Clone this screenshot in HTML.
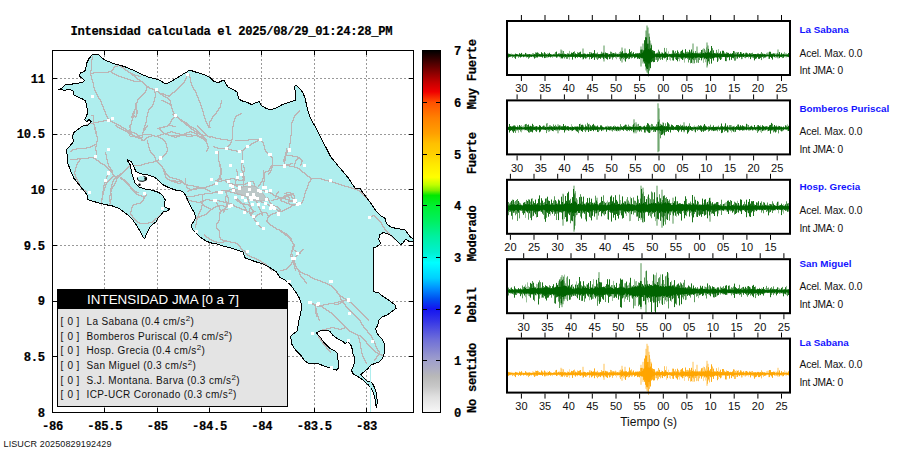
<!DOCTYPE html>
<html><head><meta charset="utf-8"><title>Intensidad</title>
<style>
html,body{margin:0;padding:0;background:#fff;}
#root{position:relative;width:910px;height:460px;overflow:hidden;background:#fff;}
svg{position:absolute;left:0;top:0;}
.mono{font-family:"Liberation Mono",monospace;font-weight:bold;letter-spacing:-0.32px;stroke:#000;stroke-width:0.2px;}
.sans{font-family:"Liberation Sans",sans-serif;}
</style></head><body><div id="root">
<svg width="910" height="460" viewBox="0 0 910 460">
<defs>
<clipPath id="mapclip"><rect x="53" y="51" width="360" height="361"/></clipPath>
<linearGradient id="cbar" x1="0" y1="1" x2="0" y2="0">
<stop offset="0.000" stop-color="#f8f8f8"/>
<stop offset="0.043" stop-color="#e0e0e0"/>
<stop offset="0.071" stop-color="#c8c8c8"/>
<stop offset="0.100" stop-color="#b8b8b8"/>
<stop offset="0.114" stop-color="#b0b0c0"/>
<stop offset="0.143" stop-color="#a0a0cc"/>
<stop offset="0.171" stop-color="#8888d0"/>
<stop offset="0.200" stop-color="#7070d8"/>
<stop offset="0.229" stop-color="#5050e0"/>
<stop offset="0.257" stop-color="#3030e8"/>
<stop offset="0.286" stop-color="#1414f0"/>
<stop offset="0.314" stop-color="#0050f0"/>
<stop offset="0.343" stop-color="#0090ff"/>
<stop offset="0.371" stop-color="#00d0ff"/>
<stop offset="0.414" stop-color="#00ffff"/>
<stop offset="0.443" stop-color="#00f0d0"/>
<stop offset="0.486" stop-color="#00f0a0"/>
<stop offset="0.529" stop-color="#00f060"/>
<stop offset="0.571" stop-color="#00f030"/>
<stop offset="0.600" stop-color="#00e800"/>
<stop offset="0.614" stop-color="#80f000"/>
<stop offset="0.629" stop-color="#c0ff00"/>
<stop offset="0.650" stop-color="#ffff00"/>
<stop offset="0.686" stop-color="#ffe800"/>
<stop offset="0.714" stop-color="#ffd000"/>
<stop offset="0.743" stop-color="#ffc000"/>
<stop offset="0.771" stop-color="#ffa000"/>
<stop offset="0.814" stop-color="#ff8000"/>
<stop offset="0.857" stop-color="#ff5000"/>
<stop offset="0.886" stop-color="#f00000"/>
<stop offset="0.914" stop-color="#c00000"/>
<stop offset="0.943" stop-color="#800000"/>
<stop offset="0.971" stop-color="#400000"/>
<stop offset="1.000" stop-color="#000000"/>
</linearGradient>
</defs>

<g clip-path="url(#mapclip)">
<g stroke="#999" stroke-width="1" stroke-dasharray="2,2">
<line x1="104.5" y1="51" x2="104.5" y2="412"/>
<line x1="157.5" y1="51" x2="157.5" y2="412"/>
<line x1="209.5" y1="51" x2="209.5" y2="412"/>
<line x1="261.5" y1="51" x2="261.5" y2="412"/>
<line x1="314.5" y1="51" x2="314.5" y2="412"/>
<line x1="366.5" y1="51" x2="366.5" y2="412"/>
<line x1="53" y1="356.5" x2="413" y2="356.5" stroke-dashoffset="1"/>
<line x1="53" y1="301.5" x2="413" y2="301.5" stroke-dashoffset="1"/>
<line x1="53" y1="245.5" x2="413" y2="245.5" stroke-dashoffset="1"/>
<line x1="53" y1="189.5" x2="413" y2="189.5" stroke-dashoffset="1"/>
<line x1="53" y1="134.5" x2="413" y2="134.5" stroke-dashoffset="1"/>
<line x1="53" y1="78.5" x2="413" y2="78.5" stroke-dashoffset="1"/>
</g>
<polygon points="92.2,54.8 96.6,54.3 98.7,54.8 104.2,59.8 115,64.1 123.7,66.3 134.6,70.7 143.3,75 148.7,77.2 157.4,79.3 161.7,81.5 166.1,84.1 174.8,79.3 183.5,73.9 190,70 194.3,71.7 200.9,73.5 205.2,75 209.6,77.2 213.9,81.5 218.3,82.6 223.7,80 225.9,83.7 228,87 233,89.5 237,92 238.7,99 243,101.3 247.4,102.4 251.7,104.6 256.1,102.4 259.3,101.7 261.5,105.7 265.9,108.3 270.2,110 275.7,108.3 282.2,104.6 288.7,102.4 295.2,100.2 295.7,92.6 294.1,86.1 296.3,85.7 299.6,88.3 302.8,92.6 305,98 307.2,107.8 309.3,115.4 312.6,122 317,129.6 321.3,138.3 325.7,147 330.5,156.5 337.4,165 343.9,172.6 348.3,178 352.6,184.6 355.9,188.9 360.2,188.3 362.4,192.2 366.7,197.6 372.2,205.2 376.5,211.7 380.9,216.1 385.2,218.3 386.3,223.7 390.7,227 397.2,228.7 404.8,229.6 407,232.4 410.2,236.7 413.5,239.3 414,239.3 414,242 409,241.3 405.9,239.1 402.6,243.5 400.4,244.6 396.1,240.2 391.7,235.9 387.4,233.7 383,232.6 379.8,234.8 378.7,239.1 380.9,243.5 376.5,246.7 373.3,247.8 373.3,291.3 376.5,292.4 378.7,293 383,296.3 389.6,300.7 395,305 396.1,308.3 391.7,311.5 387.4,314.8 382,317 378.7,320.2 377.6,325.7 375.4,328.9 377.6,334.3 382,338.7 384.1,343 384.5,351.3 383.8,355.4 381.8,359.4 379,362.1 375,363.5 371,364.8 368.3,368.2 364.3,371.6 361,374.5 364,378 367,381 370,381.6 372.5,383.5 374.3,387 375.9,391 376.7,395 377.1,400 377.1,404 376.4,407.5 375.3,404 375.3,400.5 374.4,396 373,392 371,388.2 368.3,384.8 365.6,382.6 362.2,379.4 359,377.2 356,375.6 352.8,373.6 351.5,370.2 353.5,366.2 354.8,360.8 354.2,356.7 352.8,353.4 352.2,349 350.6,344.3 347.4,341.7 345.2,343.9 343,341.7 337.4,338.7 333,335.4 329.8,331.1 324.3,330 320,331.1 316.5,332.5 317.6,334.5 320.3,337.1 323.9,342.5 329.2,347.8 335.5,351.4 337.2,353.2 338.1,360.3 338.1,368.3 336.3,370.1 331,368.3 325.7,366.5 318.5,363.9 313.2,363 307.8,363 304.3,360.3 300.7,355 295.3,349.6 291.8,344.3 291.8,340.7 290,337.1 293,334.1 297.4,330.9 298.5,322.2 300.7,313.5 301.7,304.8 299.6,298.3 296,292.5 291,285.5 285,280 280,277.5 276.1,271.7 269.6,267.4 263,264.1 256.5,262 250,259.8 244.6,257.6 243.5,252.2 237,250 230.4,247.8 221.7,245.7 215.2,243.5 213,243.5 206.5,241.3 200,237 195.7,232.6 192.4,229.3 191.3,225 193.5,221.7 195.7,217.4 194.6,213 191.3,207.6 188,201.1 185.9,195.7 182.6,191.3 176.1,190.2 169.6,188 163,184.8 158.7,180.4 154.3,177.2 147.8,175 141.3,173.9 135.9,171.7 133.7,166.3 131.5,162 127.8,159.8 127.6,160.8 130.4,165.2 131.5,171.7 132.6,176.1 134.8,182.6 139.1,187 145.7,189.1 152.2,190.2 158.7,192.4 163,195.7 165.2,200 164.1,204.3 165.2,207.6 169.6,208.7 167.4,210.9 163,212 160.9,215.2 157.6,218.5 156.5,221.7 153.3,223.9 150,227.2 147.8,231.5 145.7,235.9 144.6,238.9 142.4,235.9 140.2,231.5 137,226.1 132.6,219.6 128.3,215.2 123.9,212 119.6,208.7 113,206.1 106.5,204.8 100,203.3 95.5,202 87.9,199.8 86.8,194.3 82.4,188.9 78.1,183.5 73.7,178 70.5,170.4 67.2,161.7 67.2,155.2 66.1,149.8 69.4,146.5 73.7,141.3 72.6,137 73.7,132.6 78.1,129.3 82.4,126.1 87.9,125 91.1,121.7 89,119.6 86.8,121.7 84.6,119.6 86.8,115.2 87.9,112 86.8,106.5 85.7,101.1 82.4,98.9 77,96.7 73.7,94.6 73.7,91.3 69.4,89.1 65,90.2 58.5,89.6 61.8,88 65,84.8 69.4,84.8 73.7,83.7 82.4,82.6 84.6,80.4 82.4,78.3 79.2,76 80.3,72.8 84.6,71.7 85.7,68.5 86.8,63 88.9,58.7" fill="#afeeee" stroke="none"/>
<polygon points="137.5,177.5 140,176.3 143.5,176.3 146.5,177.5 146.5,180 143,181.3 139.5,181 137.5,179.5" fill="#afeeee" stroke="none"/>
<path d="M92 56h1v1h-1zM92 57h1v1h-1zM92 58h1v1h-1zM91 59h2v1h-2zM91 60h1v1h-1zM91 61h1v1h-1zM91 62h1v1h-1zM91 63h1v1h-1zM91 64h1v1h-1zM91 65h1v1h-1zM117 65h4v1h-4zM91 66h1v1h-1zM114 66h4v1h-4zM120 66h2v1h-2zM91 67h1v1h-1zM113 67h2v1h-2zM121 67h3v1h-3zM91 68h1v1h-1zM113 68h1v1h-1zM123 68h2v1h-2zM91 69h1v1h-1zM112 69h2v1h-2zM124 69h2v1h-2zM90 70h2v1h-2zM111 70h2v1h-2zM125 70h3v1h-3zM90 71h1v1h-1zM108 71h4v1h-4zM127 71h2v1h-2zM90 72h1v1h-1zM93 72h16v1h-16zM111 72h2v1h-2zM128 72h3v1h-3zM90 73h4v1h-4zM112 73h3v1h-3zM130 73h3v1h-3zM90 74h1v1h-1zM114 74h3v1h-3zM131 74h4v1h-4zM187 74h1v1h-1zM189 74h1v1h-1zM90 75h2v1h-2zM116 75h3v1h-3zM132 75h7v1h-7zM186 75h2v1h-2zM189 75h1v1h-1zM91 76h1v1h-1zM118 76h4v1h-4zM134 76h2v1h-2zM138 76h3v1h-3zM186 76h1v1h-1zM189 76h1v1h-1zM91 77h1v1h-1zM121 77h4v1h-4zM135 77h2v1h-2zM186 77h1v1h-1zM189 77h2v1h-2zM91 78h1v1h-1zM124 78h4v1h-4zM136 78h2v1h-2zM185 78h2v1h-2zM190 78h1v1h-1zM91 79h2v1h-2zM127 79h4v1h-4zM137 79h3v1h-3zM185 79h1v1h-1zM190 79h1v1h-1zM92 80h1v1h-1zM130 80h4v1h-4zM139 80h2v1h-2zM184 80h2v1h-2zM190 80h1v1h-1zM92 81h1v1h-1zM133 81h10v1h-10zM184 81h1v1h-1zM190 81h1v1h-1zM92 82h2v1h-2zM142 82h2v1h-2zM183 82h2v1h-2zM190 82h2v1h-2zM93 83h1v1h-1zM143 83h2v1h-2zM182 83h2v1h-2zM191 83h1v1h-1zM93 84h1v1h-1zM144 84h2v1h-2zM181 84h2v1h-2zM191 84h1v1h-1zM93 85h1v1h-1zM145 85h2v1h-2zM180 85h2v1h-2zM191 85h2v1h-2zM93 86h1v1h-1zM146 86h3v1h-3zM179 86h2v1h-2zM192 86h1v1h-1zM93 87h2v1h-2zM146 87h4v1h-4zM178 87h2v1h-2zM192 87h2v1h-2zM94 88h1v1h-1zM146 88h1v1h-1zM149 88h4v1h-4zM177 88h2v1h-2zM193 88h1v1h-1zM94 89h1v1h-1zM146 89h1v1h-1zM152 89h4v1h-4zM176 89h2v1h-2zM193 89h2v1h-2zM94 90h2v1h-2zM145 90h2v1h-2zM154 90h3v1h-3zM175 90h2v1h-2zM194 90h2v1h-2zM95 91h1v1h-1zM145 91h1v1h-1zM154 91h1v1h-1zM156 91h3v1h-3zM174 91h2v1h-2zM195 91h1v1h-1zM95 92h2v1h-2zM144 92h2v1h-2zM154 92h2v1h-2zM158 92h2v1h-2zM172 92h3v1h-3zM195 92h2v1h-2zM96 93h1v1h-1zM143 93h2v1h-2zM155 93h1v1h-1zM159 93h5v1h-5zM171 93h2v1h-2zM196 93h1v1h-1zM96 94h2v1h-2zM142 94h2v1h-2zM155 94h1v1h-1zM160 94h6v1h-6zM170 94h2v1h-2zM196 94h1v1h-1zM97 95h1v1h-1zM141 95h2v1h-2zM155 95h1v1h-1zM162 95h2v1h-2zM165 95h6v1h-6zM196 95h2v1h-2zM97 96h2v1h-2zM140 96h2v1h-2zM155 96h1v1h-1zM163 96h3v1h-3zM168 96h2v1h-2zM197 96h1v1h-1zM98 97h1v1h-1zM139 97h2v1h-2zM154 97h2v1h-2zM165 97h3v1h-3zM197 97h2v1h-2zM98 98h2v1h-2zM138 98h2v1h-2zM154 98h1v1h-1zM167 98h2v1h-2zM198 98h1v1h-1zM99 99h2v1h-2zM137 99h2v1h-2zM154 99h1v1h-1zM168 99h2v1h-2zM198 99h1v1h-1zM100 100h1v1h-1zM137 100h1v1h-1zM154 100h1v1h-1zM161 100h3v1h-3zM169 100h2v1h-2zM198 100h2v1h-2zM221 100h1v1h-1zM100 101h2v1h-2zM137 101h1v1h-1zM153 101h2v1h-2zM163 101h3v1h-3zM170 101h1v1h-1zM199 101h1v1h-1zM221 101h1v1h-1zM101 102h1v1h-1zM136 102h2v1h-2zM153 102h1v1h-1zM165 102h3v1h-3zM170 102h1v1h-1zM199 102h2v1h-2zM221 102h1v1h-1zM101 103h1v1h-1zM135 103h2v1h-2zM153 103h1v1h-1zM167 103h4v1h-4zM200 103h1v1h-1zM220 103h2v1h-2zM101 104h2v1h-2zM135 104h2v1h-2zM152 104h2v1h-2zM169 104h3v1h-3zM200 104h1v1h-1zM220 104h1v1h-1zM102 105h1v1h-1zM135 105h2v1h-2zM152 105h1v1h-1zM170 105h2v1h-2zM200 105h2v1h-2zM220 105h1v1h-1zM102 106h2v1h-2zM135 106h2v1h-2zM151 106h2v1h-2zM171 106h1v1h-1zM201 106h1v1h-1zM220 106h1v1h-1zM103 107h1v1h-1zM135 107h2v1h-2zM150 107h2v1h-2zM171 107h1v1h-1zM201 107h1v1h-1zM219 107h2v1h-2zM103 108h1v1h-1zM135 108h2v1h-2zM149 108h2v1h-2zM171 108h2v1h-2zM201 108h2v1h-2zM218 108h2v1h-2zM103 109h2v1h-2zM134 109h3v1h-3zM148 109h2v1h-2zM172 109h1v1h-1zM202 109h1v1h-1zM218 109h1v1h-1zM104 110h1v1h-1zM134 110h1v1h-1zM136 110h2v1h-2zM148 110h1v1h-1zM172 110h1v1h-1zM202 110h1v1h-1zM217 110h2v1h-2zM299 110h1v1h-1zM104 111h2v1h-2zM133 111h2v1h-2zM136 111h2v1h-2zM148 111h1v1h-1zM172 111h2v1h-2zM202 111h2v1h-2zM216 111h2v1h-2zM298 111h2v1h-2zM105 112h1v1h-1zM133 112h2v1h-2zM136 112h2v1h-2zM147 112h2v1h-2zM173 112h1v1h-1zM203 112h1v1h-1zM216 112h1v1h-1zM297 112h2v1h-2zM105 113h1v1h-1zM132 113h3v1h-3zM136 113h2v1h-2zM147 113h1v1h-1zM173 113h2v1h-2zM203 113h1v1h-1zM215 113h2v1h-2zM240 113h2v1h-2zM296 113h2v1h-2zM105 114h2v1h-2zM132 114h2v1h-2zM136 114h1v1h-1zM147 114h1v1h-1zM172 114h4v1h-4zM203 114h1v1h-1zM214 114h2v1h-2zM238 114h3v1h-3zM295 114h2v1h-2zM91 115h3v1h-3zM106 115h1v1h-1zM132 115h3v1h-3zM136 115h1v1h-1zM147 115h1v1h-1zM173 115h4v1h-4zM203 115h2v1h-2zM213 115h2v1h-2zM236 115h3v1h-3zM294 115h2v1h-2zM93 116h1v1h-1zM106 116h2v1h-2zM131 116h6v1h-6zM146 116h2v1h-2zM174 116h4v1h-4zM204 116h1v1h-1zM212 116h2v1h-2zM235 116h2v1h-2zM294 116h1v1h-1zM93 117h1v1h-1zM107 117h1v1h-1zM131 117h3v1h-3zM135 117h1v1h-1zM146 117h1v1h-1zM173 117h2v1h-2zM176 117h3v1h-3zM204 117h1v1h-1zM212 117h1v1h-1zM235 117h1v1h-1zM293 117h2v1h-2zM93 118h1v1h-1zM107 118h2v1h-2zM132 118h1v1h-1zM146 118h1v1h-1zM172 118h2v1h-2zM178 118h2v1h-2zM204 118h2v1h-2zM211 118h2v1h-2zM234 118h2v1h-2zM293 118h1v1h-1zM93 119h1v1h-1zM108 119h3v1h-3zM132 119h1v1h-1zM146 119h1v1h-1zM171 119h2v1h-2zM179 119h3v1h-3zM205 119h1v1h-1zM211 119h1v1h-1zM234 119h1v1h-1zM293 119h1v1h-1zM93 120h1v1h-1zM103 120h8v1h-8zM131 120h2v1h-2zM146 120h1v1h-1zM171 120h1v1h-1zM180 120h3v1h-3zM205 120h1v1h-1zM210 120h2v1h-2zM234 120h1v1h-1zM292 120h2v1h-2zM93 121h1v1h-1zM98 121h6v1h-6zM110 121h3v1h-3zM131 121h1v1h-1zM146 121h1v1h-1zM170 121h2v1h-2zM181 121h4v1h-4zM205 121h2v1h-2zM209 121h2v1h-2zM233 121h2v1h-2zM292 121h1v1h-1zM93 122h6v1h-6zM112 122h3v1h-3zM131 122h1v1h-1zM145 122h2v1h-2zM170 122h1v1h-1zM183 122h4v1h-4zM206 122h1v1h-1zM209 122h1v1h-1zM233 122h1v1h-1zM291 122h2v1h-2zM88 123h6v1h-6zM114 123h3v1h-3zM131 123h1v1h-1zM145 123h1v1h-1zM169 123h2v1h-2zM184 123h4v1h-4zM206 123h2v1h-2zM209 123h1v1h-1zM233 123h1v1h-1zM291 123h1v1h-1zM86 124h3v1h-3zM93 124h2v1h-2zM116 124h3v1h-3zM130 124h2v1h-2zM145 124h1v1h-1zM168 124h2v1h-2zM185 124h4v1h-4zM207 124h1v1h-1zM209 124h1v1h-1zM233 124h1v1h-1zM291 124h1v1h-1zM94 125h1v1h-1zM115 125h2v1h-2zM118 125h3v1h-3zM129 125h2v1h-2zM144 125h2v1h-2zM147 125h1v1h-1zM167 125h6v1h-6zM186 125h4v1h-4zM197 125h1v1h-1zM207 125h3v1h-3zM233 125h1v1h-1zM291 125h1v1h-1zM94 126h1v1h-1zM116 126h2v1h-2zM120 126h2v1h-2zM129 126h2v1h-2zM144 126h1v1h-1zM146 126h2v1h-2zM163 126h5v1h-5zM172 126h4v1h-4zM188 126h4v1h-4zM197 126h2v1h-2zM208 126h2v1h-2zM232 126h2v1h-2zM291 126h1v1h-1zM94 127h2v1h-2zM117 127h3v1h-3zM121 127h3v1h-3zM129 127h2v1h-2zM144 127h3v1h-3zM159 127h6v1h-6zM189 127h5v1h-5zM198 127h2v1h-2zM208 127h3v1h-3zM232 127h1v1h-1zM291 127h1v1h-1zM94 128h2v1h-2zM119 128h3v1h-3zM123 128h3v1h-3zM130 128h1v1h-1zM143 128h3v1h-3zM157 128h4v1h-4zM190 128h2v1h-2zM193 128h3v1h-3zM199 128h2v1h-2zM232 128h1v1h-1zM291 128h1v1h-1zM94 129h2v1h-2zM121 129h3v1h-3zM125 129h2v1h-2zM129 129h2v1h-2zM143 129h3v1h-3zM159 129h2v1h-2zM191 129h3v1h-3zM195 129h2v1h-2zM200 129h2v1h-2zM232 129h1v1h-1zM291 129h1v1h-1zM95 130h1v1h-1zM123 130h8v1h-8zM143 130h2v1h-2zM160 130h2v1h-2zM193 130h2v1h-2zM196 130h2v1h-2zM201 130h2v1h-2zM232 130h1v1h-1zM291 130h1v1h-1zM95 131h2v1h-2zM125 131h7v1h-7zM143 131h1v1h-1zM161 131h2v1h-2zM170 131h3v1h-3zM189 131h3v1h-3zM194 131h5v1h-5zM202 131h2v1h-2zM232 131h1v1h-1zM291 131h1v1h-1zM95 132h2v1h-2zM127 132h8v1h-8zM142 132h2v1h-2zM162 132h2v1h-2zM167 132h4v1h-4zM172 132h4v1h-4zM186 132h4v1h-4zM191 132h4v1h-4zM196 132h4v1h-4zM203 132h2v1h-2zM232 132h1v1h-1zM291 132h1v1h-1zM95 133h2v1h-2zM128 133h4v1h-4zM134 133h3v1h-3zM142 133h1v1h-1zM163 133h5v1h-5zM175 133h5v1h-5zM184 133h3v1h-3zM194 133h7v1h-7zM204 133h2v1h-2zM232 133h1v1h-1zM291 133h1v1h-1zM96 134h1v1h-1zM129 134h4v1h-4zM136 134h2v1h-2zM142 134h10v1h-10zM160 134h4v1h-4zM165 134h4v1h-4zM179 134h13v1h-13zM196 134h2v1h-2zM199 134h4v1h-4zM205 134h2v1h-2zM232 134h1v1h-1zM291 134h1v1h-1zM96 135h1v1h-1zM129 135h1v1h-1zM132 135h3v1h-3zM137 135h6v1h-6zM151 135h4v1h-4zM157 135h4v1h-4zM168 135h19v1h-19zM191 135h8v1h-8zM201 135h7v1h-7zM232 135h1v1h-1zM290 135h2v1h-2zM96 136h2v1h-2zM130 136h10v1h-10zM142 136h1v1h-1zM148 136h4v1h-4zM154 136h5v1h-5zM171 136h4v1h-4zM176 136h4v1h-4zM186 136h7v1h-7zM197 136h7v1h-7zM207 136h6v1h-6zM232 136h1v1h-1zM290 136h1v1h-1zM97 137h1v1h-1zM135 137h8v1h-8zM146 137h3v1h-3zM158 137h3v1h-3zM174 137h3v1h-3zM199 137h6v1h-6zM209 137h2v1h-2zM212 137h4v1h-4zM232 137h1v1h-1zM290 137h1v1h-1zM97 138h1v1h-1zM138 138h4v1h-4zM145 138h2v1h-2zM160 138h3v1h-3zM201 138h5v1h-5zM215 138h6v1h-6zM232 138h1v1h-1zM290 138h1v1h-1zM97 139h1v1h-1zM141 139h2v1h-2zM144 139h2v1h-2zM162 139h2v1h-2zM203 139h4v1h-4zM220 139h8v1h-8zM231 139h2v1h-2zM248 139h13v1h-13zM290 139h1v1h-1zM97 140h1v1h-1zM141 140h4v1h-4zM147 140h1v1h-1zM163 140h2v1h-2zM204 140h3v1h-3zM227 140h5v1h-5zM235 140h14v1h-14zM257 140h5v1h-5zM290 140h1v1h-1zM96 141h2v1h-2zM147 141h1v1h-1zM164 141h2v1h-2zM205 141h2v1h-2zM231 141h1v1h-1zM255 141h3v1h-3zM261 141h2v1h-2zM290 141h1v1h-1zM96 142h1v1h-1zM147 142h1v1h-1zM165 142h1v1h-1zM206 142h1v1h-1zM230 142h2v1h-2zM253 142h3v1h-3zM262 142h2v1h-2zM290 142h1v1h-1zM96 143h1v1h-1zM147 143h2v1h-2zM165 143h2v1h-2zM206 143h2v1h-2zM230 143h1v1h-1zM251 143h3v1h-3zM263 143h1v1h-1zM289 143h2v1h-2zM94 144h3v1h-3zM148 144h1v1h-1zM166 144h1v1h-1zM207 144h1v1h-1zM229 144h2v1h-2zM250 144h2v1h-2zM263 144h1v1h-1zM289 144h1v1h-1zM92 145h3v1h-3zM96 145h1v1h-1zM148 145h1v1h-1zM166 145h1v1h-1zM207 145h1v1h-1zM228 145h2v1h-2zM248 145h3v1h-3zM263 145h2v1h-2zM289 145h1v1h-1zM90 146h3v1h-3zM95 146h2v1h-2zM148 146h1v1h-1zM166 146h1v1h-1zM207 146h2v1h-2zM213 146h2v1h-2zM227 146h2v1h-2zM246 146h3v1h-3zM264 146h1v1h-1zM289 146h1v1h-1zM86 147h5v1h-5zM95 147h1v1h-1zM148 147h2v1h-2zM166 147h2v1h-2zM208 147h1v1h-1zM214 147h4v1h-4zM226 147h2v1h-2zM245 147h2v1h-2zM264 147h1v1h-1zM289 147h1v1h-1zM76 148h11v1h-11zM95 148h1v1h-1zM149 148h1v1h-1zM167 148h1v1h-1zM207 148h2v1h-2zM217 148h12v1h-12zM244 148h2v1h-2zM264 148h1v1h-1zM286 148h1v1h-1zM288 148h2v1h-2zM72 149h5v1h-5zM95 149h1v1h-1zM149 149h1v1h-1zM167 149h1v1h-1zM207 149h1v1h-1zM228 149h4v1h-4zM243 149h2v1h-2zM264 149h2v1h-2zM286 149h1v1h-1zM288 149h1v1h-1zM71 150h2v1h-2zM95 150h2v1h-2zM149 150h2v1h-2zM167 150h1v1h-1zM206 150h2v1h-2zM231 150h6v1h-6zM240 150h4v1h-4zM265 150h1v1h-1zM286 150h3v1h-3zM70 151h2v1h-2zM96 151h1v1h-1zM150 151h1v1h-1zM166 151h2v1h-2zM206 151h1v1h-1zM218 151h1v1h-1zM236 151h5v1h-5zM242 151h1v1h-1zM265 151h2v1h-2zM286 151h2v1h-2zM96 152h1v1h-1zM105 152h1v1h-1zM150 152h2v1h-2zM166 152h1v1h-1zM218 152h1v1h-1zM242 152h1v1h-1zM266 152h2v1h-2zM285 152h3v1h-3zM96 153h1v1h-1zM105 153h1v1h-1zM151 153h2v1h-2zM165 153h2v1h-2zM218 153h1v1h-1zM242 153h1v1h-1zM267 153h2v1h-2zM285 153h2v1h-2zM96 154h1v1h-1zM105 154h2v1h-2zM152 154h2v1h-2zM164 154h2v1h-2zM218 154h1v1h-1zM242 154h1v1h-1zM268 154h2v1h-2zM285 154h2v1h-2zM95 155h2v1h-2zM106 155h1v1h-1zM153 155h2v1h-2zM163 155h2v1h-2zM218 155h1v1h-1zM242 155h1v1h-1zM269 155h2v1h-2zM285 155h8v1h-8zM95 156h1v1h-1zM106 156h1v1h-1zM154 156h1v1h-1zM162 156h2v1h-2zM218 156h1v1h-1zM242 156h1v1h-1zM270 156h2v1h-2zM284 156h2v1h-2zM292 156h6v1h-6zM88 157h6v1h-6zM95 157h1v1h-1zM106 157h1v1h-1zM154 157h2v1h-2zM161 157h2v1h-2zM218 157h1v1h-1zM242 157h1v1h-1zM271 157h2v1h-2zM284 157h2v1h-2zM297 157h3v1h-3zM77 158h12v1h-12zM93 158h3v1h-3zM106 158h1v1h-1zM155 158h1v1h-1zM160 158h2v1h-2zM218 158h1v1h-1zM242 158h1v1h-1zM272 158h1v1h-1zM284 158h2v1h-2zM297 158h4v1h-4zM70 159h8v1h-8zM79 159h2v1h-2zM95 159h2v1h-2zM106 159h2v1h-2zM155 159h1v1h-1zM158 159h3v1h-3zM218 159h1v1h-1zM242 159h1v1h-1zM272 159h1v1h-1zM283 159h3v1h-3zM296 159h2v1h-2zM300 159h2v1h-2zM79 160h1v1h-1zM96 160h3v1h-3zM107 160h1v1h-1zM155 160h4v1h-4zM218 160h1v1h-1zM242 160h1v1h-1zM272 160h1v1h-1zM283 160h3v1h-3zM295 160h2v1h-2zM301 160h2v1h-2zM78 161h2v1h-2zM98 161h2v1h-2zM107 161h1v1h-1zM153 161h5v1h-5zM218 161h2v1h-2zM242 161h1v1h-1zM272 161h1v1h-1zM283 161h2v1h-2zM295 161h1v1h-1zM301 161h2v1h-2zM77 162h2v1h-2zM99 162h2v1h-2zM107 162h1v1h-1zM148 162h6v1h-6zM157 162h2v1h-2zM219 162h1v1h-1zM242 162h1v1h-1zM272 162h1v1h-1zM284 162h1v1h-1zM295 162h1v1h-1zM301 162h1v1h-1zM77 163h1v1h-1zM100 163h3v1h-3zM107 163h2v1h-2zM144 163h5v1h-5zM158 163h2v1h-2zM219 163h1v1h-1zM241 163h2v1h-2zM272 163h1v1h-1zM284 163h1v1h-1zM290 163h3v1h-3zM294 163h2v1h-2zM301 163h1v1h-1zM76 164h2v1h-2zM102 164h3v1h-3zM108 164h1v1h-1zM141 164h4v1h-4zM159 164h2v1h-2zM219 164h2v1h-2zM241 164h1v1h-1zM272 164h1v1h-1zM284 164h7v1h-7zM294 164h1v1h-1zM300 164h2v1h-2zM76 165h1v1h-1zM104 165h2v1h-2zM108 165h1v1h-1zM129 165h1v1h-1zM133 165h9v1h-9zM160 165h2v1h-2zM219 165h2v1h-2zM241 165h1v1h-1zM243 165h1v1h-1zM271 165h19v1h-19zM294 165h1v1h-1zM300 165h1v1h-1zM76 166h1v1h-1zM105 166h2v1h-2zM108 166h2v1h-2zM128 166h2v1h-2zM161 166h2v1h-2zM219 166h2v1h-2zM241 166h1v1h-1zM243 166h1v1h-1zM270 166h3v1h-3zM289 166h6v1h-6zM75 167h2v1h-2zM106 167h2v1h-2zM109 167h2v1h-2zM127 167h2v1h-2zM162 167h1v1h-1zM220 167h1v1h-1zM241 167h1v1h-1zM243 167h2v1h-2zM270 167h3v1h-3zM294 167h4v1h-4zM75 168h1v1h-1zM107 168h2v1h-2zM110 168h1v1h-1zM126 168h2v1h-2zM162 168h2v1h-2zM220 168h2v1h-2zM241 168h1v1h-1zM244 168h1v1h-1zM269 168h3v1h-3zM297 168h3v1h-3zM75 169h1v1h-1zM108 169h4v1h-4zM125 169h2v1h-2zM163 169h2v1h-2zM220 169h2v1h-2zM236 169h1v1h-1zM241 169h1v1h-1zM244 169h1v1h-1zM269 169h1v1h-1zM271 169h1v1h-1zM299 169h2v1h-2zM75 170h1v1h-1zM109 170h4v1h-4zM124 170h2v1h-2zM163 170h2v1h-2zM220 170h2v1h-2zM236 170h1v1h-1zM241 170h2v1h-2zM244 170h1v1h-1zM263 170h1v1h-1zM268 170h4v1h-4zM300 170h2v1h-2zM74 171h2v1h-2zM108 171h5v1h-5zM123 171h2v1h-2zM163 171h3v1h-3zM220 171h2v1h-2zM236 171h2v1h-2zM242 171h3v1h-3zM263 171h1v1h-1zM265 171h4v1h-4zM270 171h1v1h-1zM301 171h2v1h-2zM74 172h1v1h-1zM108 172h1v1h-1zM111 172h2v1h-2zM122 172h2v1h-2zM164 172h2v1h-2zM220 172h2v1h-2zM237 172h1v1h-1zM242 172h2v1h-2zM263 172h3v1h-3zM269 172h2v1h-2zM302 172h3v1h-3zM74 173h1v1h-1zM108 173h1v1h-1zM112 173h1v1h-1zM120 173h3v1h-3zM164 173h3v1h-3zM220 173h2v1h-2zM237 173h1v1h-1zM242 173h2v1h-2zM263 173h2v1h-2zM268 173h2v1h-2zM304 173h2v1h-2zM74 174h2v1h-2zM107 174h2v1h-2zM112 174h2v1h-2zM119 174h3v1h-3zM164 174h4v1h-4zM220 174h2v1h-2zM237 174h1v1h-1zM242 174h2v1h-2zM263 174h2v1h-2zM268 174h1v1h-1zM305 174h2v1h-2zM75 175h1v1h-1zM107 175h1v1h-1zM113 175h2v1h-2zM117 175h4v1h-4zM165 175h1v1h-1zM167 175h2v1h-2zM219 175h2v1h-2zM237 175h1v1h-1zM242 175h2v1h-2zM263 175h2v1h-2zM306 175h2v1h-2zM75 176h1v1h-1zM106 176h2v1h-2zM112 176h8v1h-8zM165 176h1v1h-1zM168 176h2v1h-2zM219 176h2v1h-2zM236 176h2v1h-2zM242 176h3v1h-3zM263 176h2v1h-2zM307 176h3v1h-3zM75 177h2v1h-2zM106 177h1v1h-1zM111 177h2v1h-2zM115 177h4v1h-4zM120 177h2v1h-2zM165 177h2v1h-2zM169 177h4v1h-4zM219 177h2v1h-2zM236 177h1v1h-1zM242 177h3v1h-3zM263 177h2v1h-2zM309 177h2v1h-2zM76 178h1v1h-1zM106 178h1v1h-1zM110 178h2v1h-2zM114 178h4v1h-4zM120 178h3v1h-3zM166 178h2v1h-2zM172 178h5v1h-5zM185 178h1v1h-1zM218 178h4v1h-4zM230 178h5v1h-5zM236 178h1v1h-1zM243 178h2v1h-2zM262 178h3v1h-3zM310 178h12v1h-12zM76 179h2v1h-2zM105 179h2v1h-2zM109 179h2v1h-2zM113 179h2v1h-2zM116 179h1v1h-1zM121 179h4v1h-4zM167 179h3v1h-3zM176 179h4v1h-4zM185 179h1v1h-1zM217 179h5v1h-5zM225 179h6v1h-6zM234 179h5v1h-5zM242 179h3v1h-3zM262 179h1v1h-1zM264 179h1v1h-1zM310 179h2v1h-2zM321 179h4v1h-4zM77 180h1v1h-1zM105 180h1v1h-1zM108 180h2v1h-2zM113 180h1v1h-1zM116 180h1v1h-1zM123 180h3v1h-3zM169 180h7v1h-7zM179 180h3v1h-3zM185 180h1v1h-1zM215 180h4v1h-4zM221 180h5v1h-5zM235 180h2v1h-2zM238 180h7v1h-7zM262 180h1v1h-1zM264 180h1v1h-1zM310 180h1v1h-1zM324 180h5v1h-5zM77 181h2v1h-2zM105 181h1v1h-1zM107 181h2v1h-2zM112 181h2v1h-2zM115 181h2v1h-2zM124 181h3v1h-3zM171 181h12v1h-12zM185 181h1v1h-1zM217 181h5v1h-5zM225 181h2v1h-2zM235 181h1v1h-1zM243 181h1v1h-1zM250 181h4v1h-4zM261 181h4v1h-4zM309 181h2v1h-2zM328 181h5v1h-5zM78 182h1v1h-1zM104 182h4v1h-4zM112 182h1v1h-1zM115 182h1v1h-1zM125 182h3v1h-3zM174 182h4v1h-4zM180 182h4v1h-4zM185 182h1v1h-1zM215 182h3v1h-3zM226 182h3v1h-3zM235 182h1v1h-1zM243 182h1v1h-1zM247 182h4v1h-4zM253 182h1v1h-1zM260 182h2v1h-2zM263 182h1v1h-1zM308 182h2v1h-2zM332 182h4v1h-4zM78 183h2v1h-2zM104 183h1v1h-1zM106 183h1v1h-1zM112 183h1v1h-1zM114 183h2v1h-2zM126 183h3v1h-3zM177 183h4v1h-4zM183 183h3v1h-3zM214 183h2v1h-2zM228 183h5v1h-5zM235 183h1v1h-1zM243 183h1v1h-1zM245 183h4v1h-4zM253 183h2v1h-2zM260 183h1v1h-1zM263 183h1v1h-1zM308 183h1v1h-1zM335 183h4v1h-4zM79 184h1v1h-1zM104 184h3v1h-3zM111 184h2v1h-2zM114 184h1v1h-1zM127 184h3v1h-3zM184 184h4v1h-4zM212 184h3v1h-3zM230 184h16v1h-16zM248 184h2v1h-2zM254 184h1v1h-1zM259 184h2v1h-2zM263 184h1v1h-1zM308 184h1v1h-1zM338 184h4v1h-4zM79 185h2v1h-2zM103 185h3v1h-3zM111 185h1v1h-1zM113 185h2v1h-2zM128 185h2v1h-2zM186 185h8v1h-8zM209 185h4v1h-4zM233 185h5v1h-5zM243 185h1v1h-1zM249 185h1v1h-1zM254 185h1v1h-1zM258 185h2v1h-2zM263 185h1v1h-1zM307 185h2v1h-2zM341 185h4v1h-4zM80 186h1v1h-1zM103 186h1v1h-1zM105 186h1v1h-1zM111 186h3v1h-3zM129 186h2v1h-2zM186 186h1v1h-1zM193 186h6v1h-6zM206 186h4v1h-4zM236 186h6v1h-6zM243 186h1v1h-1zM249 186h1v1h-1zM254 186h2v1h-2zM258 186h1v1h-1zM307 186h1v1h-1zM344 186h5v1h-5zM80 187h2v1h-2zM103 187h3v1h-3zM111 187h2v1h-2zM130 187h2v1h-2zM186 187h2v1h-2zM196 187h11v1h-11zM241 187h5v1h-5zM249 187h1v1h-1zM255 187h2v1h-2zM307 187h1v1h-1zM348 187h4v1h-4zM81 188h2v1h-2zM103 188h2v1h-2zM110 188h3v1h-3zM130 188h3v1h-3zM187 188h3v1h-3zM193 188h13v1h-13zM232 188h3v1h-3zM245 188h7v1h-7zM306 188h2v1h-2zM351 188h4v1h-4zM82 189h2v1h-2zM103 189h2v1h-2zM110 189h2v1h-2zM131 189h3v1h-3zM189 189h8v1h-8zM205 189h3v1h-3zM229 189h4v1h-4zM234 189h2v1h-2zM249 189h11v1h-11zM306 189h1v1h-1zM354 189h4v1h-4zM83 190h3v1h-3zM103 190h2v1h-2zM110 190h2v1h-2zM132 190h3v1h-3zM188 190h4v1h-4zM207 190h3v1h-3zM221 190h9v1h-9zM235 190h2v1h-2zM250 190h1v1h-1zM259 190h6v1h-6zM305 190h2v1h-2zM357 190h3v1h-3zM85 191h2v1h-2zM102 191h2v1h-2zM110 191h2v1h-2zM133 191h4v1h-4zM187 191h2v1h-2zM209 191h2v1h-2zM215 191h8v1h-8zM225 191h6v1h-6zM250 191h1v1h-1zM264 191h4v1h-4zM278 191h1v1h-1zM305 191h1v1h-1zM359 191h2v1h-2zM102 192h2v1h-2zM110 192h1v1h-1zM134 192h5v1h-5zM212 192h7v1h-7zM225 192h2v1h-2zM230 192h5v1h-5zM267 192h4v1h-4zM277 192h2v1h-2zM286 192h5v1h-5zM305 192h1v1h-1zM360 192h2v1h-2zM102 193h2v1h-2zM110 193h2v1h-2zM135 193h2v1h-2zM204 193h9v1h-9zM226 193h1v1h-1zM234 193h4v1h-4zM270 193h3v1h-3zM276 193h2v1h-2zM284 193h3v1h-3zM290 193h4v1h-4zM304 193h2v1h-2zM361 193h2v1h-2zM102 194h2v1h-2zM110 194h2v1h-2zM136 194h3v1h-3zM146 194h1v1h-1zM198 194h7v1h-7zM226 194h1v1h-1zM237 194h5v1h-5zM272 194h2v1h-2zM276 194h1v1h-1zM286 194h8v1h-8zM304 194h1v1h-1zM362 194h2v1h-2zM102 195h1v1h-1zM109 195h3v1h-3zM138 195h4v1h-4zM145 195h2v1h-2zM194 195h5v1h-5zM202 195h1v1h-1zM226 195h2v1h-2zM241 195h5v1h-5zM273 195h4v1h-4zM284 195h8v1h-8zM293 195h2v1h-2zM304 195h1v1h-1zM363 195h2v1h-2zM102 196h1v1h-1zM109 196h1v1h-1zM111 196h1v1h-1zM141 196h5v1h-5zM185 196h10v1h-10zM202 196h1v1h-1zM225 196h3v1h-3zM245 196h7v1h-7zM275 196h4v1h-4zM283 196h6v1h-6zM291 196h1v1h-1zM294 196h1v1h-1zM304 196h1v1h-1zM364 196h2v1h-2zM102 197h1v1h-1zM109 197h1v1h-1zM111 197h1v1h-1zM143 197h2v1h-2zM202 197h1v1h-1zM225 197h1v1h-1zM227 197h2v1h-2zM236 197h1v1h-1zM247 197h1v1h-1zM251 197h6v1h-6zM267 197h1v1h-1zM275 197h1v1h-1zM278 197h8v1h-8zM288 197h2v1h-2zM291 197h2v1h-2zM294 197h1v1h-1zM303 197h2v1h-2zM365 197h2v1h-2zM101 198h2v1h-2zM109 198h1v1h-1zM111 198h1v1h-1zM143 198h2v1h-2zM202 198h1v1h-1zM225 198h1v1h-1zM228 198h1v1h-1zM236 198h2v1h-2zM247 198h1v1h-1zM256 198h2v1h-2zM267 198h2v1h-2zM277 198h9v1h-9zM289 198h1v1h-1zM292 198h3v1h-3zM303 198h1v1h-1zM366 198h2v1h-2zM101 199h2v1h-2zM109 199h3v1h-3zM143 199h1v1h-1zM186 199h3v1h-3zM202 199h1v1h-1zM205 199h5v1h-5zM213 199h4v1h-4zM225 199h1v1h-1zM228 199h1v1h-1zM235 199h4v1h-4zM247 199h2v1h-2zM257 199h3v1h-3zM268 199h1v1h-1zM273 199h5v1h-5zM280 199h2v1h-2zM285 199h5v1h-5zM293 199h2v1h-2zM303 199h1v1h-1zM367 199h1v1h-1zM101 200h1v1h-1zM109 200h2v1h-2zM142 200h2v1h-2zM188 200h4v1h-4zM202 200h4v1h-4zM209 200h5v1h-5zM215 200h5v1h-5zM225 200h1v1h-1zM228 200h1v1h-1zM236 200h4v1h-4zM248 200h1v1h-1zM256 200h1v1h-1zM259 200h2v1h-2zM268 200h2v1h-2zM271 200h3v1h-3zM280 200h2v1h-2zM288 200h7v1h-7zM302 200h2v1h-2zM101 201h1v1h-1zM109 201h2v1h-2zM141 201h2v1h-2zM191 201h6v1h-6zM200 201h4v1h-4zM215 201h2v1h-2zM219 201h5v1h-5zM225 201h2v1h-2zM228 201h1v1h-1zM237 201h4v1h-4zM248 201h1v1h-1zM256 201h1v1h-1zM260 201h2v1h-2zM269 201h1v1h-1zM281 201h4v1h-4zM288 201h5v1h-5zM294 201h2v1h-2zM302 201h1v1h-1zM101 202h1v1h-1zM110 202h1v1h-1zM140 202h2v1h-2zM196 202h7v1h-7zM216 202h1v1h-1zM223 202h6v1h-6zM239 202h3v1h-3zM248 202h2v1h-2zM256 202h2v1h-2zM261 202h4v1h-4zM269 202h2v1h-2zM284 202h3v1h-3zM288 202h1v1h-1zM295 202h2v1h-2zM301 202h2v1h-2zM101 203h1v1h-1zM109 203h2v1h-2zM136 203h5v1h-5zM201 203h2v1h-2zM216 203h2v1h-2zM226 203h6v1h-6zM240 203h5v1h-5zM249 203h1v1h-1zM257 203h1v1h-1zM264 203h3v1h-3zM270 203h2v1h-2zM286 203h4v1h-4zM296 203h3v1h-3zM300 203h2v1h-2zM101 204h1v1h-1zM109 204h1v1h-1zM133 204h4v1h-4zM202 204h2v1h-2zM217 204h1v1h-1zM226 204h2v1h-2zM231 204h3v1h-3zM242 204h8v1h-8zM257 204h1v1h-1zM266 204h3v1h-3zM271 204h2v1h-2zM289 204h10v1h-10zM300 204h1v1h-1zM101 205h1v1h-1zM132 205h2v1h-2zM201 205h4v1h-4zM217 205h7v1h-7zM226 205h2v1h-2zM229 205h6v1h-6zM243 205h1v1h-1zM248 205h3v1h-3zM257 205h2v1h-2zM268 205h3v1h-3zM272 205h3v1h-3zM291 205h4v1h-4zM132 206h1v1h-1zM201 206h1v1h-1zM204 206h3v1h-3zM215 206h5v1h-5zM223 206h7v1h-7zM234 206h3v1h-3zM243 206h2v1h-2zM249 206h2v1h-2zM258 206h1v1h-1zM270 206h3v1h-3zM274 206h4v1h-4zM290 206h2v1h-2zM131 207h2v1h-2zM201 207h1v1h-1zM206 207h3v1h-3zM213 207h3v1h-3zM219 207h1v1h-1zM225 207h2v1h-2zM236 207h4v1h-4zM244 207h2v1h-2zM250 207h2v1h-2zM258 207h2v1h-2zM272 207h2v1h-2zM277 207h2v1h-2zM288 207h3v1h-3zM131 208h1v1h-1zM201 208h1v1h-1zM208 208h3v1h-3zM212 208h2v1h-2zM219 208h1v1h-1zM224 208h2v1h-2zM239 208h3v1h-3zM245 208h1v1h-1zM249 208h3v1h-3zM259 208h1v1h-1zM273 208h3v1h-3zM278 208h2v1h-2zM286 208h3v1h-3zM131 209h1v1h-1zM200 209h2v1h-2zM210 209h3v1h-3zM219 209h2v1h-2zM222 209h6v1h-6zM241 209h6v1h-6zM249 209h1v1h-1zM251 209h2v1h-2zM259 209h2v1h-2zM275 209h3v1h-3zM279 209h2v1h-2zM284 209h3v1h-3zM131 210h1v1h-1zM200 210h1v1h-1zM209 210h2v1h-2zM220 210h5v1h-5zM244 210h3v1h-3zM249 210h1v1h-1zM252 210h2v1h-2zM260 210h1v1h-1zM277 210h4v1h-4zM282 210h3v1h-3zM130 211h2v1h-2zM163 211h1v1h-1zM199 211h2v1h-2zM208 211h2v1h-2zM220 211h2v1h-2zM223 211h2v1h-2zM246 211h4v1h-4zM252 211h4v1h-4zM260 211h2v1h-2zM278 211h5v1h-5zM130 212h1v1h-1zM162 212h2v1h-2zM199 212h1v1h-1zM207 212h2v1h-2zM219 212h2v1h-2zM223 212h1v1h-1zM247 212h1v1h-1zM249 212h5v1h-5zM261 212h6v1h-6zM275 212h4v1h-4zM130 213h1v1h-1zM161 213h2v1h-2zM198 213h2v1h-2zM206 213h2v1h-2zM219 213h2v1h-2zM249 213h4v1h-4zM259 213h4v1h-4zM266 213h2v1h-2zM272 213h4v1h-4zM130 214h2v1h-2zM160 214h2v1h-2zM198 214h1v1h-1zM204 214h3v1h-3zM219 214h1v1h-1zM250 214h2v1h-2zM257 214h3v1h-3zM261 214h2v1h-2zM267 214h1v1h-1zM270 214h3v1h-3zM131 215h2v1h-2zM159 215h2v1h-2zM198 215h1v1h-1zM201 215h4v1h-4zM219 215h1v1h-1zM250 215h3v1h-3zM256 215h2v1h-2zM262 215h1v1h-1zM267 215h4v1h-4zM372 215h3v1h-3zM132 216h1v1h-1zM158 216h2v1h-2zM197 216h5v1h-5zM219 216h1v1h-1zM252 216h2v1h-2zM255 216h2v1h-2zM268 216h2v1h-2zM370 216h3v1h-3zM374 216h2v1h-2zM132 217h2v1h-2zM157 217h2v1h-2zM196 217h4v1h-4zM219 217h1v1h-1zM253 217h1v1h-1zM255 217h1v1h-1zM267 217h2v1h-2zM369 217h2v1h-2zM375 217h2v1h-2zM133 218h2v1h-2zM155 218h3v1h-3zM195 218h3v1h-3zM219 218h1v1h-1zM253 218h2v1h-2zM267 218h1v1h-1zM368 218h2v1h-2zM376 218h2v1h-2zM134 219h2v1h-2zM154 219h2v1h-2zM196 219h2v1h-2zM219 219h1v1h-1zM254 219h1v1h-1zM267 219h1v1h-1zM377 219h2v1h-2zM135 220h2v1h-2zM153 220h2v1h-2zM196 220h1v1h-1zM218 220h2v1h-2zM254 220h2v1h-2zM266 220h2v1h-2zM378 220h2v1h-2zM136 221h2v1h-2zM152 221h2v1h-2zM196 221h1v1h-1zM218 221h1v1h-1zM255 221h2v1h-2zM266 221h2v1h-2zM379 221h2v1h-2zM137 222h3v1h-3zM148 222h5v1h-5zM196 222h1v1h-1zM217 222h2v1h-2zM256 222h1v1h-1zM267 222h2v1h-2zM380 222h2v1h-2zM139 223h10v1h-10zM196 223h1v1h-1zM216 223h2v1h-2zM256 223h2v1h-2zM268 223h2v1h-2zM381 223h1v1h-1zM195 224h2v1h-2zM216 224h1v1h-1zM257 224h2v1h-2zM269 224h2v1h-2zM381 224h2v1h-2zM195 225h1v1h-1zM216 225h1v1h-1zM258 225h2v1h-2zM270 225h3v1h-3zM382 225h1v1h-1zM195 226h1v1h-1zM216 226h1v1h-1zM259 226h2v1h-2zM272 226h2v1h-2zM382 226h2v1h-2zM195 227h1v1h-1zM216 227h1v1h-1zM260 227h3v1h-3zM273 227h3v1h-3zM383 227h2v1h-2zM216 228h2v1h-2zM262 228h2v1h-2zM275 228h2v1h-2zM384 228h1v1h-1zM217 229h2v1h-2zM263 229h2v1h-2zM276 229h4v1h-4zM384 229h2v1h-2zM218 230h2v1h-2zM279 230h3v1h-3zM385 230h2v1h-2zM219 231h1v1h-1zM280 231h3v1h-3zM386 231h2v1h-2zM219 232h1v1h-1zM281 232h4v1h-4zM387 232h2v1h-2zM219 233h1v1h-1zM283 233h4v1h-4zM388 233h2v1h-2zM204 234h1v1h-1zM219 234h1v1h-1zM284 234h4v1h-4zM389 234h2v1h-2zM204 235h2v1h-2zM219 235h1v1h-1zM285 235h4v1h-4zM390 235h2v1h-2zM205 236h2v1h-2zM219 236h1v1h-1zM287 236h3v1h-3zM391 236h2v1h-2zM206 237h3v1h-3zM219 237h2v1h-2zM288 237h3v1h-3zM392 237h2v1h-2zM208 238h2v1h-2zM220 238h1v1h-1zM289 238h3v1h-3zM393 238h2v1h-2zM209 239h3v1h-3zM220 239h3v1h-3zM290 239h2v1h-2zM394 239h1v1h-1zM211 240h3v1h-3zM222 240h5v1h-5zM290 240h2v1h-2zM213 241h4v1h-4zM223 241h8v1h-8zM291 241h2v1h-2zM216 242h8v1h-8zM230 242h6v1h-6zM292 242h1v1h-1zM235 243h3v1h-3zM292 243h2v1h-2zM237 244h2v1h-2zM293 244h2v1h-2zM238 245h2v1h-2zM293 245h2v1h-2zM239 246h2v1h-2zM292 246h3v1h-3zM240 247h1v1h-1zM292 247h2v1h-2zM240 248h2v1h-2zM292 248h2v1h-2zM241 249h2v1h-2zM292 249h2v1h-2zM302 249h2v1h-2zM242 250h3v1h-3zM291 250h2v1h-2zM294 250h2v1h-2zM301 250h2v1h-2zM244 251h2v1h-2zM291 251h2v1h-2zM295 251h2v1h-2zM300 251h2v1h-2zM245 252h2v1h-2zM291 252h1v1h-1zM296 252h5v1h-5zM245 253h2v1h-2zM291 253h1v1h-1zM298 253h3v1h-3zM246 254h2v1h-2zM290 254h3v1h-3zM297 254h2v1h-2zM247 255h3v1h-3zM290 255h1v1h-1zM292 255h1v1h-1zM296 255h2v1h-2zM249 256h3v1h-3zM290 256h3v1h-3zM295 256h2v1h-2zM251 257h4v1h-4zM291 257h5v1h-5zM254 258h3v1h-3zM291 258h1v1h-1zM293 258h2v1h-2zM256 259h3v1h-3zM291 259h3v1h-3zM258 260h3v1h-3zM292 260h3v1h-3zM260 261h2v1h-2zM292 261h3v1h-3zM261 262h3v1h-3zM291 262h4v1h-4zM263 263h3v1h-3zM291 263h1v1h-1zM293 263h3v1h-3zM265 264h2v1h-2zM290 264h2v1h-2zM293 264h3v1h-3zM266 265h2v1h-2zM289 265h2v1h-2zM294 265h2v1h-2zM267 266h2v1h-2zM288 266h2v1h-2zM294 266h3v1h-3zM268 267h2v1h-2zM287 267h2v1h-2zM294 267h1v1h-1zM296 267h1v1h-1zM269 268h2v1h-2zM286 268h2v1h-2zM294 268h4v1h-4zM270 269h2v1h-2zM283 269h4v1h-4zM295 269h1v1h-1zM297 269h2v1h-2zM271 270h1v1h-1zM280 270h4v1h-4zM295 270h1v1h-1zM298 270h2v1h-2zM298 271h3v1h-3zM299 272h4v1h-4zM299 273h1v1h-1zM302 273h3v1h-3zM299 274h2v1h-2zM304 274h4v1h-4zM300 275h1v1h-1zM307 275h3v1h-3zM300 276h2v1h-2zM309 276h2v1h-2zM301 277h2v1h-2zM310 277h3v1h-3zM302 278h2v1h-2zM312 278h3v1h-3zM303 279h2v1h-2zM314 279h4v1h-4zM304 280h1v1h-1zM317 280h4v1h-4zM304 281h2v1h-2zM320 281h3v1h-3zM305 282h2v1h-2zM322 282h4v1h-4zM306 283h1v1h-1zM325 283h3v1h-3zM327 284h3v1h-3zM329 285h3v1h-3zM331 286h2v1h-2zM332 287h2v1h-2zM333 288h2v1h-2zM334 289h2v1h-2zM335 290h2v1h-2zM336 291h2v1h-2zM336 292h2v1h-2zM337 293h2v1h-2zM338 294h2v1h-2zM339 295h2v1h-2zM339 296h4v1h-4zM340 297h1v1h-1zM342 297h2v1h-2zM340 298h1v1h-1zM343 298h3v1h-3zM340 299h2v1h-2zM345 299h3v1h-3zM341 300h8v1h-8zM308 301h2v1h-2zM338 301h6v1h-6zM348 301h2v1h-2zM309 302h2v1h-2zM334 302h5v1h-5zM340 302h4v1h-4zM349 302h3v1h-3zM309 303h5v1h-5zM328 303h7v1h-7zM338 303h3v1h-3zM343 303h2v1h-2zM351 303h2v1h-2zM312 304h8v1h-8zM323 304h6v1h-6zM334 304h5v1h-5zM344 304h2v1h-2zM352 304h2v1h-2zM314 305h4v1h-4zM319 305h5v1h-5zM345 305h1v1h-1zM353 305h2v1h-2zM315 306h1v1h-1zM317 306h6v1h-6zM345 306h2v1h-2zM354 306h2v1h-2zM315 307h1v1h-1zM322 307h2v1h-2zM346 307h2v1h-2zM355 307h2v1h-2zM315 308h2v1h-2zM323 308h3v1h-3zM347 308h2v1h-2zM356 308h2v1h-2zM315 309h2v1h-2zM325 309h2v1h-2zM348 309h2v1h-2zM357 309h2v1h-2zM315 310h2v1h-2zM326 310h3v1h-3zM349 310h2v1h-2zM358 310h2v1h-2zM315 311h2v1h-2zM328 311h2v1h-2zM350 311h2v1h-2zM359 311h2v1h-2zM315 312h2v1h-2zM329 312h3v1h-3zM351 312h2v1h-2zM360 312h2v1h-2zM315 313h3v1h-3zM331 313h2v1h-2zM352 313h2v1h-2zM361 313h2v1h-2zM316 314h2v1h-2zM332 314h2v1h-2zM353 314h2v1h-2zM362 314h2v1h-2zM316 315h2v1h-2zM333 315h2v1h-2zM354 315h2v1h-2zM363 315h2v1h-2zM316 316h3v1h-3zM334 316h2v1h-2zM355 316h2v1h-2zM364 316h2v1h-2zM318 317h1v1h-1zM335 317h2v1h-2zM356 317h2v1h-2zM365 317h2v1h-2zM318 318h1v1h-1zM336 318h2v1h-2zM357 318h2v1h-2zM366 318h2v1h-2zM318 319h2v1h-2zM337 319h2v1h-2zM358 319h2v1h-2zM367 319h2v1h-2zM319 320h1v1h-1zM338 320h2v1h-2zM359 320h2v1h-2zM368 320h1v1h-1zM339 321h2v1h-2zM360 321h1v1h-1zM340 322h2v1h-2zM360 322h2v1h-2zM341 323h2v1h-2zM361 323h1v1h-1zM342 324h2v1h-2zM361 324h2v1h-2zM343 325h2v1h-2zM362 325h2v1h-2zM344 326h2v1h-2zM363 326h1v1h-1zM330 327h5v1h-5zM344 327h3v1h-3zM363 327h2v1h-2zM326 328h5v1h-5zM334 328h5v1h-5zM341 328h4v1h-4zM346 328h2v1h-2zM364 328h2v1h-2zM322 329h5v1h-5zM338 329h4v1h-4zM347 329h2v1h-2zM365 329h2v1h-2zM319 330h4v1h-4zM348 330h2v1h-2zM366 330h2v1h-2zM318 331h2v1h-2zM349 331h3v1h-3zM367 331h1v1h-1zM351 332h3v1h-3zM367 332h2v1h-2zM353 333h3v1h-3zM368 333h2v1h-2zM355 334h3v1h-3zM369 334h2v1h-2zM357 335h4v1h-4zM370 335h2v1h-2zM318 336h1v1h-1zM358 336h1v1h-1zM360 336h2v1h-2zM371 336h1v1h-1zM318 337h2v1h-2zM358 337h1v1h-1zM361 337h2v1h-2zM371 337h2v1h-2zM319 338h2v1h-2zM358 338h2v1h-2zM362 338h2v1h-2zM372 338h1v1h-1zM320 339h1v1h-1zM359 339h1v1h-1zM363 339h2v1h-2zM372 339h2v1h-2zM320 340h2v1h-2zM359 340h1v1h-1zM364 340h2v1h-2zM373 340h1v1h-1zM321 341h2v1h-2zM359 341h1v1h-1zM365 341h2v1h-2zM373 341h2v1h-2zM322 342h1v1h-1zM359 342h2v1h-2zM366 342h1v1h-1zM374 342h1v1h-1zM322 343h2v1h-2zM360 343h1v1h-1zM366 343h2v1h-2zM374 343h2v1h-2zM323 344h2v1h-2zM360 344h1v1h-1zM367 344h2v1h-2zM375 344h1v1h-1zM324 345h2v1h-2zM360 345h1v1h-1zM368 345h2v1h-2zM375 345h1v1h-1zM325 346h2v1h-2zM360 346h1v1h-1zM369 346h2v1h-2zM375 346h2v1h-2zM326 347h1v1h-1zM360 347h1v1h-1zM370 347h2v1h-2zM376 347h1v1h-1zM326 348h2v1h-2zM360 348h2v1h-2zM371 348h2v1h-2zM376 348h2v1h-2zM327 349h2v1h-2zM361 349h1v1h-1zM372 349h2v1h-2zM377 349h1v1h-1zM328 350h2v1h-2zM361 350h1v1h-1zM373 350h2v1h-2zM377 350h2v1h-2zM329 351h2v1h-2zM361 351h1v1h-1zM374 351h2v1h-2zM378 351h2v1h-2zM330 352h1v1h-1zM361 352h1v1h-1zM375 352h3v1h-3zM379 352h1v1h-1zM361 353h2v1h-2zM377 353h3v1h-3zM362 354h1v1h-1zM378 354h4v1h-4zM362 355h1v1h-1zM377 355h2v1h-2zM381 355h2v1h-2zM362 356h2v1h-2zM376 356h2v1h-2zM363 357h1v1h-1zM376 357h1v1h-1zM363 358h2v1h-2zM375 358h2v1h-2zM364 359h1v1h-1zM374 359h2v1h-2zM364 360h2v1h-2zM374 360h1v1h-1zM365 361h1v1h-1zM365 362h2v1h-2zM366 363h1v1h-1z" fill="#bcb4b4"/>
<polygon points="235.7,190 240,188.4 243.3,186.7 247.6,186.2 252,185.7 256.3,186.7 260.7,191.1 262.8,193.3 265,196.5 266.1,199.8 262.8,200.9 258.5,200.9 255.2,200.9 252,199.8 247.6,197.6 243.3,195.4 238.9,194.3 235.7,192.2" fill="#bcc8c8" stroke="#bcb4b4" stroke-width="1"/>
<polygon points="92.2,54.8 96.6,54.3 98.7,54.8 104.2,59.8 115,64.1 123.7,66.3 134.6,70.7 143.3,75 148.7,77.2 157.4,79.3 161.7,81.5 166.1,84.1 174.8,79.3 183.5,73.9 190,70 194.3,71.7 200.9,73.5 205.2,75 209.6,77.2 213.9,81.5 218.3,82.6 223.7,80 225.9,83.7 228,87 233,89.5 237,92 238.7,99 243,101.3 247.4,102.4 251.7,104.6 256.1,102.4 259.3,101.7 261.5,105.7 265.9,108.3 270.2,110 275.7,108.3 282.2,104.6 288.7,102.4 295.2,100.2 295.7,92.6 294.1,86.1 296.3,85.7 299.6,88.3 302.8,92.6 305,98 307.2,107.8 309.3,115.4 312.6,122 317,129.6 321.3,138.3 325.7,147 330.5,156.5 337.4,165 343.9,172.6 348.3,178 352.6,184.6 355.9,188.9 360.2,188.3 362.4,192.2 366.7,197.6 372.2,205.2 376.5,211.7 380.9,216.1 385.2,218.3 386.3,223.7 390.7,227 397.2,228.7 404.8,229.6 407,232.4 410.2,236.7 413.5,239.3 414,239.3 414,242 409,241.3 405.9,239.1 402.6,243.5 400.4,244.6 396.1,240.2 391.7,235.9 387.4,233.7 383,232.6 379.8,234.8 378.7,239.1 380.9,243.5 376.5,246.7 373.3,247.8 373.3,291.3 376.5,292.4 378.7,293 383,296.3 389.6,300.7 395,305 396.1,308.3 391.7,311.5 387.4,314.8 382,317 378.7,320.2 377.6,325.7 375.4,328.9 377.6,334.3 382,338.7 384.1,343 384.5,351.3 383.8,355.4 381.8,359.4 379,362.1 375,363.5 371,364.8 368.3,368.2 364.3,371.6 361,374.5 364,378 367,381 370,381.6 372.5,383.5 374.3,387 375.9,391 376.7,395 377.1,400 377.1,404 376.4,407.5 375.3,404 375.3,400.5 374.4,396 373,392 371,388.2 368.3,384.8 365.6,382.6 362.2,379.4 359,377.2 356,375.6 352.8,373.6 351.5,370.2 353.5,366.2 354.8,360.8 354.2,356.7 352.8,353.4 352.2,349 350.6,344.3 347.4,341.7 345.2,343.9 343,341.7 337.4,338.7 333,335.4 329.8,331.1 324.3,330 320,331.1 316.5,332.5 317.6,334.5 320.3,337.1 323.9,342.5 329.2,347.8 335.5,351.4 337.2,353.2 338.1,360.3 338.1,368.3 336.3,370.1 331,368.3 325.7,366.5 318.5,363.9 313.2,363 307.8,363 304.3,360.3 300.7,355 295.3,349.6 291.8,344.3 291.8,340.7 290,337.1 293,334.1 297.4,330.9 298.5,322.2 300.7,313.5 301.7,304.8 299.6,298.3 296,292.5 291,285.5 285,280 280,277.5 276.1,271.7 269.6,267.4 263,264.1 256.5,262 250,259.8 244.6,257.6 243.5,252.2 237,250 230.4,247.8 221.7,245.7 215.2,243.5 213,243.5 206.5,241.3 200,237 195.7,232.6 192.4,229.3 191.3,225 193.5,221.7 195.7,217.4 194.6,213 191.3,207.6 188,201.1 185.9,195.7 182.6,191.3 176.1,190.2 169.6,188 163,184.8 158.7,180.4 154.3,177.2 147.8,175 141.3,173.9 135.9,171.7 133.7,166.3 131.5,162 127.8,159.8 127.6,160.8 130.4,165.2 131.5,171.7 132.6,176.1 134.8,182.6 139.1,187 145.7,189.1 152.2,190.2 158.7,192.4 163,195.7 165.2,200 164.1,204.3 165.2,207.6 169.6,208.7 167.4,210.9 163,212 160.9,215.2 157.6,218.5 156.5,221.7 153.3,223.9 150,227.2 147.8,231.5 145.7,235.9 144.6,238.9 142.4,235.9 140.2,231.5 137,226.1 132.6,219.6 128.3,215.2 123.9,212 119.6,208.7 113,206.1 106.5,204.8 100,203.3 95.5,202 87.9,199.8 86.8,194.3 82.4,188.9 78.1,183.5 73.7,178 70.5,170.4 67.2,161.7 67.2,155.2 66.1,149.8 69.4,146.5 73.7,141.3 72.6,137 73.7,132.6 78.1,129.3 82.4,126.1 87.9,125 91.1,121.7 89,119.6 86.8,121.7 84.6,119.6 86.8,115.2 87.9,112 86.8,106.5 85.7,101.1 82.4,98.9 77,96.7 73.7,94.6 73.7,91.3 69.4,89.1 65,90.2 58.5,89.6 61.8,88 65,84.8 69.4,84.8 73.7,83.7 82.4,82.6 84.6,80.4 82.4,78.3 79.2,76 80.3,72.8 84.6,71.7 85.7,68.5 86.8,63 88.9,58.7" fill="none" stroke="#000" stroke-width="1" stroke-linejoin="round" shape-rendering="crispEdges"/>
<polyline points="143.5,176.3 146.5,177.5 146.5,180 143,181.3 139.5,181 137.5,179.5 137.5,177.5" fill="none" stroke="#000" stroke-width="1"/>
<circle cx="145.7" cy="178.7" r="1.4" fill="#000"/>
<circle cx="139.5" cy="184.8" r="1.2" fill="#000"/>
<line x1="370.5" y1="366" x2="370.5" y2="412" stroke="#afeeee" stroke-width="1"/>
<g fill="#fff">
<rect x="186" y="73" width="3" height="3"/>
<rect x="155" y="88" width="3" height="3"/>
<rect x="91" y="95" width="3" height="3"/>
<rect x="111" y="117" width="3" height="3"/>
<rect x="107" y="119" width="3" height="3"/>
<rect x="174" y="114" width="3" height="3"/>
<rect x="107" y="148" width="3" height="3"/>
<rect x="94" y="155" width="3" height="3"/>
<rect x="159" y="157" width="3" height="3"/>
<rect x="107" y="172" width="3" height="3"/>
<rect x="104" y="179" width="3" height="3"/>
<rect x="88" y="191" width="3" height="3"/>
<rect x="259" y="138" width="3" height="3"/>
<rect x="246" y="145" width="3" height="3"/>
<rect x="225" y="147" width="3" height="3"/>
<rect x="238" y="150" width="3" height="3"/>
<rect x="215" y="151" width="3" height="3"/>
<rect x="269" y="153" width="3" height="3"/>
<rect x="288" y="149" width="3" height="3"/>
<rect x="283" y="165" width="3" height="3"/>
<rect x="303" y="164" width="3" height="3"/>
<rect x="241" y="160" width="3" height="3"/>
<rect x="229" y="164" width="3" height="3"/>
<rect x="210" y="178" width="3" height="3"/>
<rect x="329" y="179" width="3" height="3"/>
<rect x="248" y="183" width="3" height="3"/>
<rect x="218" y="191" width="3" height="3"/>
<rect x="213" y="199" width="3" height="3"/>
<rect x="230" y="204" width="3" height="3"/>
<rect x="243" y="211" width="3" height="3"/>
<rect x="262" y="186" width="3" height="3"/>
<rect x="269" y="189" width="3" height="3"/>
<rect x="264" y="202" width="3" height="3"/>
<rect x="272" y="206" width="3" height="3"/>
<rect x="277" y="212" width="3" height="3"/>
<rect x="298" y="202" width="3" height="3"/>
<rect x="293" y="200" width="3" height="3"/>
<rect x="252" y="215" width="3" height="3"/>
<rect x="256" y="222" width="3" height="3"/>
<rect x="236" y="176" width="3" height="3"/>
<rect x="238" y="186" width="3" height="3"/>
<rect x="252" y="193" width="3" height="3"/>
<rect x="249" y="196" width="3" height="3"/>
<rect x="256" y="197" width="3" height="3"/>
<rect x="107" y="148" width="3" height="3"/>
<rect x="94" y="155" width="3" height="3"/>
<rect x="107" y="171" width="3" height="3"/>
<rect x="104" y="179" width="3" height="3"/>
<rect x="88" y="191" width="3" height="3"/>
<rect x="143" y="192" width="3" height="3"/>
<rect x="159" y="156" width="3" height="3"/>
<rect x="161" y="207" width="3" height="3"/>
<rect x="195" y="230" width="3" height="3"/>
<rect x="293" y="257" width="3" height="3"/>
<rect x="296" y="252" width="3" height="3"/>
<rect x="287" y="280" width="3" height="3"/>
<rect x="246" y="250" width="3" height="3"/>
<rect x="262" y="227" width="3" height="3"/>
<rect x="277" y="213" width="3" height="3"/>
<rect x="243" y="211" width="3" height="3"/>
<rect x="329" y="280" width="3" height="3"/>
<rect x="309" y="301" width="3" height="3"/>
<rect x="316" y="303" width="3" height="3"/>
<rect x="347" y="299" width="3" height="3"/>
<rect x="288" y="148" width="3" height="3"/>
<rect x="268" y="153" width="3" height="3"/>
<rect x="303" y="164" width="3" height="3"/>
<rect x="283" y="164" width="3" height="3"/>
<rect x="329" y="179" width="3" height="3"/>
<rect x="294" y="199" width="3" height="3"/>
<rect x="296" y="203" width="3" height="3"/>
<rect x="277" y="213" width="3" height="3"/>
<rect x="270" y="205" width="3" height="3"/>
<rect x="368" y="216" width="3" height="3"/>
<rect x="296" y="252" width="3" height="3"/>
<rect x="291" y="257" width="3" height="3"/>
<rect x="288" y="280" width="3" height="3"/>
<rect x="330" y="280" width="3" height="3"/>
<rect x="347" y="298" width="3" height="3"/>
<rect x="308" y="301" width="3" height="3"/>
<rect x="317" y="302" width="3" height="3"/>
<rect x="348" y="312" width="3" height="3"/>
<rect x="311" y="332" width="3" height="3"/>
<rect x="347" y="339" width="3" height="3"/>
<rect x="371" y="340" width="3" height="3"/>
<rect x="330" y="366" width="3" height="3"/>
<rect x="229" y="164" width="3" height="3"/>
<rect x="240" y="173" width="3" height="3"/>
<rect x="227" y="180" width="3" height="3"/>
<rect x="215" y="182" width="3" height="3"/>
<rect x="229" y="184" width="3" height="3"/>
<rect x="231" y="185" width="3" height="3"/>
<rect x="238" y="187" width="3" height="3"/>
<rect x="232" y="189" width="3" height="3"/>
<rect x="248" y="182" width="3" height="3"/>
<rect x="248" y="188" width="3" height="3"/>
<rect x="246" y="193" width="3" height="3"/>
<rect x="234" y="196" width="3" height="3"/>
<rect x="241" y="196" width="3" height="3"/>
<rect x="244" y="199" width="3" height="3"/>
<rect x="250" y="196" width="3" height="3"/>
<rect x="253" y="196" width="3" height="3"/>
<rect x="250" y="198" width="3" height="3"/>
<rect x="251" y="203" width="3" height="3"/>
<rect x="257" y="203" width="3" height="3"/>
<rect x="257" y="189" width="3" height="3"/>
<rect x="259" y="190" width="3" height="3"/>
<rect x="264" y="186" width="3" height="3"/>
<rect x="265" y="190" width="3" height="3"/>
<rect x="265" y="198" width="3" height="3"/>
<rect x="262" y="206" width="3" height="3"/>
<rect x="270" y="204" width="3" height="3"/>
<rect x="269" y="207" width="3" height="3"/>
<rect x="273" y="207" width="3" height="3"/>
<rect x="277" y="212" width="3" height="3"/>
<rect x="243" y="211" width="3" height="3"/>
<rect x="228" y="205" width="3" height="3"/>
<rect x="230" y="204" width="3" height="3"/>
<rect x="214" y="199" width="3" height="3"/>
<rect x="220" y="191" width="3" height="3"/>
<rect x="283" y="165" width="3" height="3"/>
<rect x="293" y="199" width="3" height="3"/>
</g>
</g>
<rect x="52.5" y="50.5" width="361" height="362" fill="none" stroke="#000" stroke-width="1"/>
<g stroke="#000" stroke-width="1">
<line x1="52.5" y1="51" x2="52.5" y2="55"/>
<line x1="52.5" y1="408" x2="52.5" y2="412"/>
<line x1="104.5" y1="51" x2="104.5" y2="55"/>
<line x1="104.5" y1="408" x2="104.5" y2="412"/>
<line x1="157.5" y1="51" x2="157.5" y2="55"/>
<line x1="157.5" y1="408" x2="157.5" y2="412"/>
<line x1="209.5" y1="51" x2="209.5" y2="55"/>
<line x1="209.5" y1="408" x2="209.5" y2="412"/>
<line x1="261.5" y1="51" x2="261.5" y2="55"/>
<line x1="261.5" y1="408" x2="261.5" y2="412"/>
<line x1="314.5" y1="51" x2="314.5" y2="55"/>
<line x1="314.5" y1="408" x2="314.5" y2="412"/>
<line x1="366.5" y1="51" x2="366.5" y2="55"/>
<line x1="366.5" y1="408" x2="366.5" y2="412"/>
<line x1="53" y1="412.5" x2="57" y2="412.5"/>
<line x1="409" y1="412.5" x2="413" y2="412.5"/>
<line x1="53" y1="356.5" x2="57" y2="356.5"/>
<line x1="409" y1="356.5" x2="413" y2="356.5"/>
<line x1="53" y1="301.5" x2="57" y2="301.5"/>
<line x1="409" y1="301.5" x2="413" y2="301.5"/>
<line x1="53" y1="245.5" x2="57" y2="245.5"/>
<line x1="409" y1="245.5" x2="413" y2="245.5"/>
<line x1="53" y1="189.5" x2="57" y2="189.5"/>
<line x1="409" y1="189.5" x2="413" y2="189.5"/>
<line x1="53" y1="134.5" x2="57" y2="134.5"/>
<line x1="409" y1="134.5" x2="413" y2="134.5"/>
<line x1="53" y1="78.5" x2="57" y2="78.5"/>
<line x1="409" y1="78.5" x2="413" y2="78.5"/>
</g>
<text class="mono" x="70.5" y="35" font-size="12.2" fill="#000">Intensidad calculada el 2025/08/29_01:24:28_PM</text>
<text class="mono" x="44.8" y="416.7" font-size="12.2" text-anchor="end" fill="#000">8</text>
<text class="mono" x="44.8" y="361" font-size="12.2" text-anchor="end" fill="#000">8.5</text>
<text class="mono" x="44.8" y="305.4" font-size="12.2" text-anchor="end" fill="#000">9</text>
<text class="mono" x="44.8" y="249.7" font-size="12.2" text-anchor="end" fill="#000">9.5</text>
<text class="mono" x="44.8" y="194" font-size="12.2" text-anchor="end" fill="#000">10</text>
<text class="mono" x="44.8" y="138.4" font-size="12.2" text-anchor="end" fill="#000">10.5</text>
<text class="mono" x="44.8" y="82.7" font-size="12.2" text-anchor="end" fill="#000">11</text>
<text class="mono" x="52.5" y="430" font-size="12.2" text-anchor="middle" fill="#000">-86</text>
<text class="mono" x="104.8" y="430" font-size="12.2" text-anchor="middle" fill="#000">-85.5</text>
<text class="mono" x="157.2" y="430" font-size="12.2" text-anchor="middle" fill="#000">-85</text>
<text class="mono" x="209.5" y="430" font-size="12.2" text-anchor="middle" fill="#000">-84.5</text>
<text class="mono" x="261.8" y="430" font-size="12.2" text-anchor="middle" fill="#000">-84</text>
<text class="mono" x="314.2" y="430" font-size="12.2" text-anchor="middle" fill="#000">-83.5</text>
<text class="mono" x="366.5" y="430" font-size="12.2" text-anchor="middle" fill="#000">-83</text>
<rect x="57.5" y="289.5" width="230" height="117" fill="#e4e4e4" stroke="#000" stroke-width="1"/>
<rect x="57" y="289" width="231" height="20" fill="#000"/>
<text class="sans" x="163" y="304" font-size="13.4" text-anchor="middle" fill="#fff">INTENSIDAD JMA [0 a 7]</text>
<text class="sans" x="60.5" y="324.8" font-size="10" fill="#111">[</text>
<text class="sans" x="67.5" y="324.8" font-size="10" fill="#111">0</text>
<text class="sans" x="76.5" y="324.8" font-size="10" fill="#111">]</text>
<text class="sans" x="86.5" y="324.8" font-size="10" letter-spacing="0.36" fill="#111">La Sabana (0.4 cm/s<tspan font-size="8" dy="-4">2</tspan><tspan dy="4">)</tspan></text>
<text class="sans" x="60.5" y="339.5" font-size="10" fill="#111">[</text>
<text class="sans" x="67.5" y="339.5" font-size="10" fill="#111">0</text>
<text class="sans" x="76.5" y="339.5" font-size="10" fill="#111">]</text>
<text class="sans" x="86.5" y="339.5" font-size="10" letter-spacing="0.36" fill="#111">Bomberos Puriscal (0.4 cm/s<tspan font-size="8" dy="-4">2</tspan><tspan dy="4">)</tspan></text>
<text class="sans" x="60.5" y="354.2" font-size="10" fill="#111">[</text>
<text class="sans" x="67.5" y="354.2" font-size="10" fill="#111">0</text>
<text class="sans" x="76.5" y="354.2" font-size="10" fill="#111">]</text>
<text class="sans" x="86.5" y="354.2" font-size="10" letter-spacing="0.36" fill="#111">Hosp. Grecia (0.4 cm/s<tspan font-size="8" dy="-4">2</tspan><tspan dy="4">)</tspan></text>
<text class="sans" x="60.5" y="368.9" font-size="10" fill="#111">[</text>
<text class="sans" x="67.5" y="368.9" font-size="10" fill="#111">0</text>
<text class="sans" x="76.5" y="368.9" font-size="10" fill="#111">]</text>
<text class="sans" x="86.5" y="368.9" font-size="10" letter-spacing="0.36" fill="#111">San Miguel (0.3 cm/s<tspan font-size="8" dy="-4">2</tspan><tspan dy="4">)</tspan></text>
<text class="sans" x="60.5" y="383.6" font-size="10" fill="#111">[</text>
<text class="sans" x="67.5" y="383.6" font-size="10" fill="#111">0</text>
<text class="sans" x="76.5" y="383.6" font-size="10" fill="#111">]</text>
<text class="sans" x="86.5" y="383.6" font-size="10" letter-spacing="0.36" fill="#111">S.J. Montana. Barva (0.3 cm/s<tspan font-size="8" dy="-4">2</tspan><tspan dy="4">)</tspan></text>
<text class="sans" x="60.5" y="398.3" font-size="10" fill="#111">[</text>
<text class="sans" x="67.5" y="398.3" font-size="10" fill="#111">0</text>
<text class="sans" x="76.5" y="398.3" font-size="10" fill="#111">]</text>
<text class="sans" x="86.5" y="398.3" font-size="10" letter-spacing="0.36" fill="#111">ICP-UCR Coronado (0.3 cm/s<tspan font-size="8" dy="-4">2</tspan><tspan dy="4">)</tspan></text>
<rect x="422.5" y="50.5" width="18" height="362" fill="url(#cbar)" stroke="#000" stroke-width="1"/>
<g stroke="#000" stroke-width="1">
<line x1="423" y1="360.5" x2="427" y2="360.5"/>
<line x1="436" y1="360.5" x2="440" y2="360.5"/>
<line x1="423" y1="309.5" x2="427" y2="309.5"/>
<line x1="436" y1="309.5" x2="440" y2="309.5"/>
<line x1="423" y1="257.5" x2="427" y2="257.5"/>
<line x1="436" y1="257.5" x2="440" y2="257.5"/>
<line x1="423" y1="205.5" x2="427" y2="205.5"/>
<line x1="436" y1="205.5" x2="440" y2="205.5"/>
<line x1="423" y1="154.5" x2="427" y2="154.5"/>
<line x1="436" y1="154.5" x2="440" y2="154.5"/>
<line x1="423" y1="102.5" x2="427" y2="102.5"/>
<line x1="436" y1="102.5" x2="440" y2="102.5"/>
</g>
<text class="mono" x="454" y="417" font-size="12.2" fill="#000">0</text>
<text class="mono" x="454" y="365" font-size="12.2" fill="#000">1</text>
<text class="mono" x="454" y="314" font-size="12.2" fill="#000">2</text>
<text class="mono" x="454" y="262" font-size="12.2" fill="#000">3</text>
<text class="mono" x="454" y="210" font-size="12.2" fill="#000">4</text>
<text class="mono" x="454" y="159" font-size="12.2" fill="#000">5</text>
<text class="mono" x="454" y="107" font-size="12.2" fill="#000">6</text>
<text class="mono" x="454" y="55" font-size="12.2" fill="#000">7</text>
<text class="mono" x="0" y="0" font-size="12.2" text-anchor="middle" fill="#000" transform="translate(476.3,74.3) rotate(-90)">Muy Fuerte</text>
<text class="mono" x="0" y="0" font-size="12.2" text-anchor="middle" fill="#000" transform="translate(476.3,153.3) rotate(-90)">Fuerte</text>
<text class="mono" x="0" y="0" font-size="12.2" text-anchor="middle" fill="#000" transform="translate(476.3,233.4) rotate(-90)">Moderado</text>
<text class="mono" x="0" y="0" font-size="12.2" text-anchor="middle" fill="#000" transform="translate(476.3,305) rotate(-90)">Debil</text>
<text class="mono" x="0" y="0" font-size="12.2" text-anchor="middle" fill="#000" transform="translate(476.3,378) rotate(-90)">No sentido</text>
<path d="M511.5 53.5V56.8M522.5 53.8V56.6M532.5 53.0V56.7M543.5 53.4V56.6M547.5 53.1V57.8M552.5 54.5V57.9M569.5 50.9V59.6M590.5 52.0V57.1M604.5 53.2V58.1M608.5 53.6V57.4M616.5 53.2V59.2M618.5 53.4V57.2M619.5 52.0V59.1M655.5 53.1V59.9M661.5 52.2V59.0M663.5 53.3V57.7M666.5 48.1V61.6M668.5 51.4V57.0M669.5 54.0V59.8M670.5 53.8V60.7M671.5 53.4V57.7M679.5 53.0V61.3M683.5 52.4V59.5M684.5 52.7V62.6M696.5 53.1V62.9M703.5 48.3V62.8M705.5 50.3V62.2M706.5 47.4V59.1M715.5 52.8V58.0M718.5 49.1V60.7M736.5 52.0V58.7M742.5 53.6V59.1M744.5 53.5V58.0M748.5 53.8V58.3M766.5 52.9V57.1M767.5 52.5V56.6M768.5 52.4V58.9M775.5 53.3V57.8M784.5 51.9V56.6M785.5 53.3V57.3M786.5 53.3V57.4" stroke="#006400" stroke-width="1" opacity="0.4" fill="none"/>
<path d="M510.5 53.9V56.9M512.5 54.2V57.8M513.5 54.4V57.0M514.5 54.4V57.8M518.5 54.5V57.7M524.5 54.5V56.8M526.5 53.6V57.5M528.5 54.2V58.8M530.5 54.4V56.9M533.5 53.4V57.2M535.5 52.4V57.9M538.5 52.9V56.7M545.5 53.2V58.0M546.5 54.1V57.5M551.5 54.2V56.9M554.5 53.7V56.8M555.5 52.1V56.6M557.5 54.0V57.3M559.5 53.3V57.2M563.5 51.0V57.3M564.5 53.6V58.5M566.5 54.4V58.8M567.5 53.2V58.8M570.5 53.9V57.0M574.5 51.3V57.3M577.5 52.2V57.9M586.5 54.3V58.3M589.5 52.0V59.4M595.5 53.4V57.6M596.5 53.4V58.6M597.5 52.5V59.9M601.5 51.7V57.8M602.5 52.7V57.9M610.5 51.6V58.6M611.5 51.9V57.4M612.5 52.9V59.6M614.5 53.2V56.8M615.5 52.4V57.6M617.5 53.8V57.2M620.5 51.4V60.8M623.5 52.9V59.2M628.5 53.0V59.2M631.5 51.1V58.4M632.5 53.2V58.0M640.5 49.7V57.7M642.5 49.6V58.6M648.5 43.6V76.4M649.5 36.8V70.6M656.5 52.9V59.9M657.5 52.5V62.0M658.5 49.7V60.6M660.5 53.6V60.0M664.5 47.9V58.6M672.5 50.3V60.3M674.5 52.5V57.5M675.5 50.9V59.1M678.5 51.9V58.9M680.5 51.5V58.3M686.5 51.9V58.0M687.5 51.5V58.9M688.5 52.0V62.5M690.5 51.6V63.3M693.5 51.4V60.2M694.5 52.9V63.3M695.5 51.0V59.7M697.5 52.6V57.9M698.5 52.9V62.9M699.5 52.7V60.0M700.5 52.3V57.9M702.5 49.5V58.3M704.5 48.8V59.3M707.5 51.8V65.5M709.5 52.1V64.1M712.5 48.2V58.6M716.5 49.9V57.7M721.5 53.7V59.2M724.5 52.5V57.1M726.5 52.1V61.2M734.5 51.3V60.7M735.5 52.6V60.6M738.5 52.0V57.1M741.5 52.4V59.2M745.5 52.8V58.2M751.5 53.1V57.3M752.5 52.7V57.6M753.5 54.1V58.1M761.5 52.0V60.1M763.5 53.8V58.4M765.5 54.3V57.6M776.5 53.6V57.4M777.5 53.1V57.3M778.5 54.0V56.3M782.5 53.9V58.1M789.5 53.5V58.6" stroke="#006400" stroke-width="1" opacity="0.65" fill="none"/>
<path d="M508.5 53.6V57.5M509.5 53.9V56.9M515.5 53.6V58.8M516.5 54.0V56.5M517.5 54.2V56.3M519.5 53.2V56.6M520.5 53.9V57.5M521.5 52.9V56.9M523.5 54.6V57.2M525.5 52.9V56.5M527.5 54.4V57.1M529.5 54.0V57.6M531.5 54.5V57.0M534.5 54.2V58.6M536.5 52.7V57.4M537.5 52.4V57.5M539.5 53.9V56.6M540.5 54.2V56.8M541.5 52.2V56.7M542.5 53.3V57.6M544.5 52.2V58.1M548.5 53.7V57.2M549.5 52.8V56.5M550.5 54.0V57.4M553.5 54.2V56.4M556.5 51.6V57.7M558.5 53.5V56.4M560.5 53.8V56.7M561.5 54.1V57.8M562.5 53.6V58.3M565.5 54.1V57.2M568.5 53.6V57.2M571.5 52.6V56.9M572.5 52.9V59.6M573.5 52.0V56.9M575.5 53.3V58.3M576.5 54.2V56.9M578.5 52.8V56.8M579.5 52.3V57.1M580.5 51.7V57.7M581.5 54.3V57.1M582.5 54.3V57.2M583.5 53.6V58.9M584.5 53.5V57.6M585.5 53.8V58.6M587.5 53.8V57.3M588.5 54.2V56.8M591.5 52.6V59.0M592.5 53.5V58.1M593.5 53.1V57.3M594.5 50.1V59.9M598.5 54.2V58.5M599.5 54.2V58.0M600.5 53.8V58.8M603.5 52.7V59.1M605.5 52.5V58.1M606.5 53.0V58.9M607.5 53.2V59.6M609.5 54.0V59.1M613.5 53.0V57.5M621.5 52.3V58.6M622.5 51.1V57.8M624.5 53.2V57.8M625.5 52.9V61.6M626.5 52.9V58.8M627.5 53.8V58.1M629.5 49.2V58.8M630.5 52.1V57.3M633.5 52.2V56.8M634.5 54.0V58.4M635.5 53.3V57.7M636.5 53.4V57.2M637.5 53.2V58.8M638.5 53.3V58.4M639.5 52.9V59.0M641.5 49.6V58.2M643.5 50.3V61.6M644.5 40.2V63.5M645.5 37.2V66.5M646.5 37.4V68.5M647.5 43.7V69.0M650.5 48.2V68.2M651.5 45.2V62.2M652.5 50.1V61.4M653.5 50.7V62.2M654.5 51.0V62.0M659.5 51.5V58.5M662.5 52.7V59.8M665.5 51.8V57.8M667.5 53.6V59.9M673.5 50.4V60.6M676.5 53.1V60.0M677.5 50.4V61.3M681.5 50.9V58.9M682.5 49.8V60.0M685.5 49.2V58.5M689.5 49.8V59.9M691.5 49.5V62.9M692.5 52.8V59.3M701.5 50.0V60.4M708.5 48.9V61.2M710.5 50.8V58.9M711.5 46.0V63.6M713.5 50.3V60.6M714.5 53.1V57.8M717.5 52.7V61.9M719.5 53.2V58.6M720.5 51.4V60.0M722.5 50.7V57.2M723.5 50.8V57.0M725.5 53.5V61.1M727.5 52.7V57.5M728.5 52.9V57.2M729.5 53.9V60.3M730.5 53.5V56.9M731.5 53.8V59.8M732.5 53.1V57.9M733.5 51.0V58.3M737.5 52.5V58.6M739.5 53.9V57.8M740.5 52.0V56.9M743.5 53.0V57.0M746.5 52.7V57.2M747.5 53.4V57.0M749.5 53.1V56.8M750.5 53.5V59.1M754.5 54.1V60.4M755.5 54.0V58.9M756.5 54.2V58.4M757.5 53.6V57.1M758.5 53.6V58.8M759.5 54.2V58.8M760.5 53.8V57.9M762.5 53.5V56.9M764.5 53.9V57.6M769.5 51.7V58.8M770.5 51.8V57.0M771.5 53.8V58.1M772.5 53.7V59.6M773.5 53.3V56.6M774.5 53.5V57.2M779.5 52.1V58.1M780.5 54.5V56.9M781.5 52.8V57.1M783.5 53.8V57.8M787.5 54.4V56.7M788.5 53.0V57.1" stroke="#006400" stroke-width="1" opacity="0.9" fill="none"/>
<path d="M508.5 54.7V56.2M509.5 54.6V56.4M510.5 54.6V56.3M511.5 54.7V56.2M512.5 54.8V56.1M513.5 54.9V56.3M514.5 54.9V56.1M515.5 54.8V56.2M516.5 54.6V56.1M517.5 54.9V56.2M518.5 54.9V56.1M519.5 54.8V56.3M520.5 54.7V56.3M521.5 54.8V56.1M522.5 54.9V56.3M523.5 54.6V56.2M524.5 54.7V56.3M525.5 54.9V56.2M526.5 54.8V56.4M527.5 54.6V56.4M528.5 54.5V56.5M529.5 54.7V56.5M530.5 54.6V56.4M531.5 54.8V56.1M532.5 54.7V56.3M533.5 54.8V56.4M534.5 54.4V56.4M535.5 54.5V56.2M536.5 54.7V56.3M537.5 54.7V56.4M538.5 54.5V56.2M539.5 54.5V56.3M540.5 54.6V56.2M541.5 54.7V56.4M542.5 54.7V56.4M543.5 54.6V56.2M544.5 54.7V56.5M545.5 54.5V56.3M546.5 54.5V56.4M547.5 54.7V56.4M548.5 54.5V56.5M549.5 54.6V56.5M550.5 54.6V56.3M551.5 54.8V56.3M552.5 54.7V56.4M553.5 54.8V56.3M554.5 54.7V56.2M555.5 54.6V56.4M556.5 54.5V56.3M557.5 54.6V56.3M558.5 54.7V56.2M559.5 54.5V56.3M560.5 54.3V56.3M561.5 54.3V56.6M562.5 54.6V56.5M563.5 54.4V56.8M564.5 54.3V56.4M565.5 54.4V56.6M566.5 54.6V56.6M567.5 54.6V56.6M568.5 54.5V56.5M569.5 54.4V56.8M570.5 54.5V56.6M571.5 54.5V56.4M572.5 54.4V56.7M573.5 54.4V56.6M574.5 54.6V56.5M575.5 54.3V56.8M576.5 54.3V56.8M577.5 54.3V56.7M578.5 54.6V56.6M579.5 54.5V56.8M580.5 54.5V56.7M581.5 54.4V56.5M582.5 54.5V56.6M583.5 54.5V56.4M584.5 54.3V56.6M585.5 54.7V56.4M586.5 54.7V56.4M587.5 54.6V56.6M588.5 54.3V56.7M589.5 54.2V56.8M590.5 54.2V57.0M591.5 54.0V56.9M592.5 53.9V56.7M593.5 53.9V56.9M594.5 54.2V56.7M595.5 54.2V56.8M596.5 54.2V56.9M597.5 54.4V56.6M598.5 54.4V56.7M599.5 54.4V56.6M600.5 54.5V56.7M601.5 54.0V56.8M602.5 54.0V56.8M603.5 54.3V56.7M604.5 54.6V56.7M605.5 54.2V56.7M606.5 54.4V56.9M607.5 54.3V56.7M608.5 54.5V56.8M609.5 54.2V56.5M610.5 54.2V56.7M611.5 54.0V56.7M612.5 54.2V57.1M613.5 54.2V56.7M614.5 54.3V56.8M615.5 54.1V56.5M616.5 54.3V56.6M617.5 54.1V56.8M618.5 54.3V56.8M619.5 54.1V56.7M620.5 53.8V57.2M621.5 54.1V57.2M622.5 54.2V57.2M623.5 53.9V56.9M624.5 54.0V56.9M625.5 54.0V56.9M626.5 54.2V57.1M627.5 54.4V56.7M628.5 54.0V56.7M629.5 54.1V56.9M630.5 53.8V56.7M631.5 54.2V56.6M632.5 54.3V56.5M633.5 54.3V56.4M634.5 54.6V56.5M635.5 54.3V56.7M636.5 54.2V56.7M637.5 54.2V57.0M638.5 54.3V56.8M639.5 54.2V56.7M640.5 53.7V57.4M641.5 53.6V57.7M642.5 52.6V57.9M643.5 52.1V58.5M644.5 49.9V61.1M645.5 48.1V61.7M646.5 46.9V61.8M647.5 49.6V62.7M648.5 49.1V63.7M649.5 49.5V63.5M650.5 49.0V60.6M651.5 51.4V59.1M652.5 52.3V58.2M653.5 53.5V57.8M654.5 53.5V57.5M655.5 54.1V56.9M656.5 53.9V57.4M657.5 53.6V57.2M658.5 53.7V57.0M659.5 53.9V57.0M660.5 53.9V57.1M661.5 53.7V56.8M662.5 53.6V57.5M663.5 53.9V57.5M664.5 53.4V57.7M665.5 53.4V57.3M666.5 53.4V57.0M667.5 54.0V57.1M668.5 54.4V56.7M669.5 53.9V56.6M670.5 54.1V56.9M671.5 54.1V57.5M672.5 53.9V57.6M673.5 54.2V57.5M674.5 53.7V56.9M675.5 54.1V56.9M676.5 54.2V57.0M677.5 54.1V57.0M678.5 53.8V57.0M679.5 54.2V57.3M680.5 53.8V57.2M681.5 53.6V57.6M682.5 53.4V57.6M683.5 53.1V57.7M684.5 53.7V57.4M685.5 53.9V57.3M686.5 53.7V57.6M687.5 53.5V57.5M688.5 53.3V57.7M689.5 53.2V57.5M690.5 53.3V57.8M691.5 53.4V57.8M692.5 53.0V57.7M693.5 53.3V58.0M694.5 53.5V57.4M695.5 53.2V57.9M696.5 53.3V57.8M697.5 53.7V57.1M698.5 53.9V57.1M699.5 53.8V57.2M700.5 53.8V57.8M701.5 53.2V58.0M702.5 53.3V57.5M703.5 53.0V57.5M704.5 53.4V58.4M705.5 52.3V58.2M706.5 53.0V59.1M707.5 52.9V58.2M708.5 52.8V57.7M709.5 52.9V57.8M710.5 53.5V57.3M711.5 53.2V57.4M712.5 53.6V58.0M713.5 53.4V57.9M714.5 53.6V57.1M715.5 53.5V57.0M716.5 53.6V57.2M717.5 54.0V57.6M718.5 53.6V57.2M719.5 54.1V56.9M720.5 54.2V57.1M721.5 53.8V56.9M722.5 54.2V56.7M723.5 54.3V56.8M724.5 54.0V56.9M725.5 54.1V57.1M726.5 53.9V57.1M727.5 54.0V57.1M728.5 54.3V57.0M729.5 54.3V56.5M730.5 54.5V56.4M731.5 54.5V56.7M732.5 54.0V56.9M733.5 54.4V56.8M734.5 54.4V56.8M735.5 54.5V56.5M736.5 54.3V56.6M737.5 54.6V56.4M738.5 54.5V56.5M739.5 54.7V56.5M740.5 54.1V56.5M741.5 54.0V56.9M742.5 54.0V56.7M743.5 54.4V56.9M744.5 54.6V56.4M745.5 54.3V56.5M746.5 54.6V56.6M747.5 54.7V56.4M748.5 54.5V56.5M749.5 54.5V56.5M750.5 54.5V56.3M751.5 54.6V56.5M752.5 54.6V56.4M753.5 54.2V56.6M754.5 54.4V56.8M755.5 54.2V56.5M756.5 54.6V56.4M757.5 54.7V56.4M758.5 54.6V56.2M759.5 54.4V56.4M760.5 54.3V56.6M761.5 54.5V56.8M762.5 54.4V56.4M763.5 54.6V56.4M764.5 54.7V56.3M765.5 54.6V56.7M766.5 54.6V56.4M767.5 54.5V56.2M768.5 54.6V56.4M769.5 54.4V56.6M770.5 54.2V56.5M771.5 54.5V56.8M772.5 54.6V56.7M773.5 54.7V56.1M774.5 54.7V56.4M775.5 54.8V56.2M776.5 54.8V56.4M777.5 54.7V56.3M778.5 54.6V56.3M779.5 54.6V56.5M780.5 54.8V56.5M781.5 54.7V56.5M782.5 54.7V56.3M783.5 54.7V56.4M784.5 54.5V56.4M785.5 54.6V56.1M786.5 54.5V56.4M787.5 54.5V56.4M788.5 54.5V56.5M789.5 54.7V56.6" stroke="#006400" stroke-width="1" fill="none"/>
<path d="M561 49.5V58.5M583 48.5V59.5M562 50.5V58.5M604 45.5V61.5M622 47.5V62.5M625 48.5V60.5M641 46.5V66.5M643 43.5V63.5M646 30.5V70.5M647 25.5V72.5M648 27.5V73.5M649 33.5V67.5M650 40.5V65.5M651 43.5V61.5M693 43.5V63.5M697 46.5V62.5M707 42.5V67.5M708 45.5V62.5M778 49.5V58.5" stroke="#006400" stroke-width="0.9" opacity="0.75" fill="none"/>
<rect x="507" y="21" width="283" height="54" fill="none" stroke="#000" stroke-width="2"/>
<path d="M521.4 15V20M521.4 76V81M545 15V20M545 76V81M568.7 15V20M568.7 76V81M592.3 15V20M592.3 76V81M616 15V20M616 76V81M639.6 15V20M639.6 76V81M663.3 15V20M663.3 76V81M686.9 15V20M686.9 76V81M710.6 15V20M710.6 76V81M734.2 15V20M734.2 76V81M757.9 15V20M757.9 76V81M781.5 15V20M781.5 76V81" stroke="#000" stroke-width="1" fill="none"/>
<text class="sans" x="521.4" y="92.4" font-size="11" text-anchor="middle" fill="#111">30</text>
<text class="sans" x="545" y="92.4" font-size="11" text-anchor="middle" fill="#111">35</text>
<text class="sans" x="568.7" y="92.4" font-size="11" text-anchor="middle" fill="#111">40</text>
<text class="sans" x="592.3" y="92.4" font-size="11" text-anchor="middle" fill="#111">45</text>
<text class="sans" x="616" y="92.4" font-size="11" text-anchor="middle" fill="#111">50</text>
<text class="sans" x="639.6" y="92.4" font-size="11" text-anchor="middle" fill="#111">55</text>
<text class="sans" x="663.3" y="92.4" font-size="11" text-anchor="middle" fill="#111">00</text>
<text class="sans" x="686.9" y="92.4" font-size="11" text-anchor="middle" fill="#111">05</text>
<text class="sans" x="710.6" y="92.4" font-size="11" text-anchor="middle" fill="#111">10</text>
<text class="sans" x="734.2" y="92.4" font-size="11" text-anchor="middle" fill="#111">15</text>
<text class="sans" x="757.9" y="92.4" font-size="11" text-anchor="middle" fill="#111">20</text>
<text class="sans" x="781.5" y="92.4" font-size="11" text-anchor="middle" fill="#111">25</text>
<text class="sans" x="799.5" y="33.2" font-size="9.85" font-weight="bold" fill="#1414ff">La Sabana</text>
<text class="sans" x="799.5" y="57" font-size="10.2" letter-spacing="-0.12" fill="#111">Acel. Max. 0.0</text>
<text class="sans" x="799.5" y="74" font-size="10.2" letter-spacing="-0.25" fill="#111">Int JMA: 0</text>
<path d="M518.5 126.3V132.7M521.5 125.0V132.4M522.5 126.3V130.4M523.5 125.7V129.7M524.5 124.7V130.3M547.5 123.0V130.7M548.5 126.2V132.0M557.5 126.8V130.5M566.5 126.1V130.4M569.5 127.1V130.6M571.5 124.2V131.2M574.5 126.1V130.1M580.5 123.6V130.4M584.5 126.8V131.0M589.5 123.8V130.8M607.5 125.6V130.1M614.5 125.4V131.0M617.5 126.1V131.4M619.5 126.7V131.3M632.5 125.2V130.3M634.5 123.0V131.6M635.5 126.2V131.4M636.5 124.5V129.9M637.5 124.3V131.6M642.5 126.7V129.8M650.5 125.4V132.4M657.5 122.1V131.3M659.5 119.5V133.6M693.5 126.3V130.2M694.5 125.4V131.4M696.5 126.3V129.9M707.5 126.8V129.8M728.5 126.6V132.3M731.5 125.1V132.5M734.5 125.8V132.2M747.5 124.4V129.8M756.5 126.4V130.9M760.5 125.1V131.8M761.5 126.6V133.0M764.5 126.3V130.8M767.5 126.0V131.3M784.5 127.2V129.8M787.5 124.3V131.1" stroke="#006400" stroke-width="1" opacity="0.4" fill="none"/>
<path d="M511.5 126.3V130.3M515.5 125.8V132.9M516.5 127.0V130.5M517.5 125.5V130.4M520.5 125.9V131.5M526.5 123.9V130.3M527.5 125.0V131.0M529.5 126.2V132.7M533.5 125.1V130.3M535.5 126.2V131.1M537.5 126.5V130.3M541.5 127.0V129.5M542.5 126.2V129.5M544.5 125.7V129.9M546.5 123.5V133.1M549.5 125.3V131.4M550.5 125.4V130.3M553.5 124.4V131.3M555.5 124.8V130.4M556.5 126.1V130.6M558.5 125.9V129.5M560.5 125.6V129.8M575.5 126.6V130.4M578.5 126.6V133.2M583.5 125.5V129.9M585.5 124.5V132.1M586.5 126.3V130.4M587.5 122.8V130.2M591.5 126.1V131.0M595.5 125.8V130.4M598.5 126.8V132.1M599.5 127.0V130.6M602.5 126.5V130.3M603.5 127.3V130.4M604.5 127.3V129.8M610.5 126.0V130.3M611.5 126.4V130.5M612.5 126.9V131.5M615.5 126.0V130.5M620.5 124.2V130.6M621.5 126.0V129.6M622.5 126.8V130.0M626.5 124.8V131.0M627.5 126.5V131.2M628.5 124.6V130.1M629.5 126.0V131.1M631.5 126.8V131.0M638.5 123.9V130.4M641.5 126.5V131.7M643.5 126.1V129.8M645.5 126.7V132.6M646.5 125.2V130.5M651.5 123.9V130.6M652.5 124.3V130.0M653.5 126.1V132.0M654.5 126.6V131.5M656.5 124.2V130.1M660.5 123.8V138.3M663.5 123.0V132.8M665.5 123.3V132.1M669.5 124.5V130.0M674.5 126.9V129.8M680.5 124.6V129.9M684.5 125.7V131.3M689.5 123.4V130.7M692.5 126.9V131.0M697.5 126.4V130.9M698.5 125.0V129.9M702.5 126.9V131.1M708.5 126.1V131.6M710.5 124.7V130.0M711.5 126.9V130.8M717.5 126.6V131.4M718.5 125.6V129.6M719.5 127.1V130.9M720.5 126.2V129.8M724.5 125.8V131.8M729.5 125.1V130.1M730.5 125.1V130.8M732.5 126.5V130.8M737.5 124.6V129.7M741.5 126.1V130.0M744.5 126.3V130.3M745.5 126.5V129.9M748.5 125.0V130.5M749.5 126.9V130.5M753.5 127.1V130.2M757.5 125.1V132.9M772.5 123.8V130.4M773.5 126.5V132.4M776.5 125.5V131.7M777.5 126.6V129.9M778.5 125.8V133.4M780.5 126.5V130.7M782.5 127.3V131.2M786.5 125.7V129.9" stroke="#006400" stroke-width="1" opacity="0.65" fill="none"/>
<path d="M508.5 126.8V129.9M509.5 124.0V132.5M510.5 126.2V130.9M512.5 126.3V131.4M513.5 125.6V132.8M514.5 125.4V131.2M519.5 125.0V129.8M525.5 124.2V130.1M528.5 124.5V132.3M530.5 125.8V131.8M531.5 126.3V131.7M532.5 123.8V132.4M534.5 126.7V130.0M536.5 126.1V131.8M538.5 126.9V129.9M539.5 125.1V132.3M540.5 125.8V131.5M543.5 125.6V129.7M545.5 126.8V130.0M551.5 126.2V130.2M552.5 126.7V131.0M554.5 126.1V129.9M559.5 125.4V130.4M561.5 126.3V129.9M562.5 126.3V130.1M563.5 124.0V130.0M564.5 126.1V132.5M565.5 125.5V130.4M567.5 126.1V130.1M568.5 126.3V130.8M570.5 126.9V130.1M572.5 126.4V130.9M573.5 127.0V130.1M576.5 126.6V131.2M577.5 126.4V131.8M579.5 124.0V130.3M581.5 124.9V131.0M582.5 124.7V131.8M588.5 124.3V132.0M590.5 125.3V131.0M592.5 124.9V130.0M593.5 123.9V131.2M594.5 125.5V129.8M596.5 126.4V129.8M597.5 125.5V131.9M600.5 125.4V129.6M601.5 125.4V131.1M605.5 126.6V129.4M606.5 126.5V131.7M608.5 126.4V129.9M609.5 126.6V130.4M613.5 126.1V130.1M616.5 126.9V131.1M618.5 126.8V130.8M623.5 126.1V130.8M624.5 125.5V129.4M625.5 124.6V129.8M630.5 126.6V129.9M633.5 124.3V132.1M639.5 126.0V131.6M640.5 125.9V130.4M644.5 125.7V132.5M647.5 123.1V131.5M648.5 123.7V132.6M649.5 125.4V133.0M655.5 126.4V131.9M658.5 121.7V130.4M661.5 124.7V135.0M662.5 125.4V134.4M664.5 126.1V135.4M666.5 126.1V131.8M667.5 122.2V130.9M668.5 123.3V132.0M670.5 126.6V132.5M671.5 124.6V129.8M672.5 125.1V130.0M673.5 126.0V130.2M675.5 126.5V129.9M676.5 125.0V129.9M677.5 125.1V130.8M678.5 125.1V132.2M679.5 126.0V130.4M681.5 125.8V131.7M682.5 125.3V130.1M683.5 126.6V130.3M685.5 126.4V129.8M686.5 125.8V130.1M687.5 126.8V133.7M688.5 125.9V132.3M690.5 126.0V130.0M691.5 127.1V130.6M695.5 126.8V132.3M699.5 126.1V129.6M700.5 125.3V130.6M701.5 125.8V131.9M703.5 125.6V131.8M704.5 124.0V130.7M705.5 125.7V130.7M706.5 126.5V129.9M709.5 126.6V130.8M712.5 126.8V130.4M713.5 125.4V131.1M714.5 127.1V130.7M715.5 126.8V130.6M716.5 126.7V130.3M721.5 123.5V133.1M722.5 126.2V132.6M723.5 126.8V129.7M725.5 123.3V130.8M726.5 126.7V130.7M727.5 125.4V132.4M733.5 126.4V131.7M735.5 127.0V131.8M736.5 126.1V129.8M738.5 124.5V129.9M739.5 126.6V130.5M740.5 125.2V130.2M742.5 125.3V130.6M743.5 126.1V130.3M746.5 123.8V130.3M750.5 126.4V130.2M751.5 125.7V129.5M752.5 126.7V130.5M754.5 125.0V129.6M755.5 127.1V130.2M758.5 125.1V131.3M759.5 126.2V130.2M762.5 125.2V131.1M763.5 126.1V130.5M765.5 126.4V130.3M766.5 126.2V129.6M768.5 126.9V131.0M769.5 125.3V130.5M770.5 124.9V133.7M771.5 122.9V130.5M774.5 125.0V131.4M775.5 126.4V132.5M779.5 126.0V129.9M781.5 126.6V131.4M783.5 126.5V130.3M785.5 125.3V129.4M788.5 125.8V131.0M789.5 126.1V130.6" stroke="#006400" stroke-width="1" opacity="0.9" fill="none"/>
<path d="M508.5 127.1V129.5M509.5 126.9V130.0M510.5 126.6V129.7M511.5 127.0V130.0M512.5 126.9V129.4M513.5 127.0V129.4M514.5 127.2V129.8M515.5 127.0V129.4M516.5 127.1V129.2M517.5 127.1V129.5M518.5 127.2V129.5M519.5 127.3V129.3M520.5 127.2V129.3M521.5 127.0V129.7M522.5 127.3V129.3M523.5 127.4V129.3M524.5 127.1V129.4M525.5 127.2V129.5M526.5 127.1V129.7M527.5 126.9V129.6M528.5 127.0V129.8M529.5 127.0V129.7M530.5 126.8V130.0M531.5 126.9V129.4M532.5 127.1V129.6M533.5 127.1V129.7M534.5 127.0V129.3M535.5 127.1V129.6M536.5 126.9V129.5M537.5 127.4V129.2M538.5 127.3V129.2M539.5 127.1V129.5M540.5 126.9V129.5M541.5 127.1V129.5M542.5 127.2V129.3M543.5 127.3V129.2M544.5 127.4V129.5M545.5 127.0V129.6M546.5 127.4V129.3M547.5 127.0V129.6M548.5 127.0V129.8M549.5 127.0V129.4M550.5 127.1V129.2M551.5 127.3V129.4M552.5 127.1V129.3M553.5 127.2V129.4M554.5 127.1V129.9M555.5 127.2V129.6M556.5 127.0V129.3M557.5 127.2V129.6M558.5 127.1V129.3M559.5 127.2V129.2M560.5 127.4V129.3M561.5 127.2V129.2M562.5 127.1V129.4M563.5 127.0V129.8M564.5 126.7V129.6M565.5 127.1V129.7M566.5 127.1V129.5M567.5 127.3V129.4M568.5 127.2V129.4M569.5 127.2V129.4M570.5 127.2V129.5M571.5 127.3V129.8M572.5 127.0V129.8M573.5 127.1V129.6M574.5 127.2V129.3M575.5 126.8V129.7M576.5 127.0V129.5M577.5 127.0V129.5M578.5 127.2V129.3M579.5 127.2V129.5M580.5 126.9V129.6M581.5 126.7V130.2M582.5 126.9V129.6M583.5 127.2V129.6M584.5 127.3V129.4M585.5 126.7V129.5M586.5 126.6V129.7M587.5 127.2V129.4M588.5 127.2V129.5M589.5 127.3V129.6M590.5 127.2V129.3M591.5 127.1V129.6M592.5 126.9V129.3M593.5 127.1V129.9M594.5 127.0V129.5M595.5 127.1V129.8M596.5 127.2V129.5M597.5 127.4V129.4M598.5 127.3V129.1M599.5 127.6V129.3M600.5 127.4V129.3M601.5 127.3V129.3M602.5 127.1V129.4M603.5 127.3V129.3M604.5 127.7V129.0M605.5 127.6V129.2M606.5 127.4V129.1M607.5 127.5V129.5M608.5 127.4V129.5M609.5 127.4V129.6M610.5 127.2V129.4M611.5 127.5V129.0M612.5 127.4V129.4M613.5 127.3V129.3M614.5 127.2V129.3M615.5 127.1V129.4M616.5 127.3V129.5M617.5 126.9V129.7M618.5 126.9V129.7M619.5 127.3V129.6M620.5 127.4V129.4M621.5 127.3V129.5M622.5 127.1V129.6M623.5 127.5V129.1M624.5 127.2V129.1M625.5 127.3V129.4M626.5 127.0V129.5M627.5 127.1V129.4M628.5 127.1V129.9M629.5 127.2V129.6M630.5 126.8V129.7M631.5 126.9V129.4M632.5 126.9V129.2M633.5 126.8V129.4M634.5 127.0V129.7M635.5 126.8V129.7M636.5 126.8V129.8M637.5 126.8V129.9M638.5 127.0V129.9M639.5 126.9V129.4M640.5 127.1V129.3M641.5 127.3V129.1M642.5 127.3V129.3M643.5 127.1V129.2M644.5 127.2V129.5M645.5 127.0V129.7M646.5 126.8V129.5M647.5 127.0V129.7M648.5 127.1V129.6M649.5 127.2V129.4M650.5 127.2V129.6M651.5 127.2V129.7M652.5 127.0V129.6M653.5 126.7V129.5M654.5 126.8V129.8M655.5 127.1V129.5M656.5 127.1V130.1M657.5 126.5V129.9M658.5 126.1V130.1M659.5 126.3V130.2M660.5 126.0V131.0M661.5 125.6V130.6M662.5 126.0V131.0M663.5 126.6V130.2M664.5 126.6V130.1M665.5 126.7V129.8M666.5 127.0V129.9M667.5 126.7V129.9M668.5 126.7V129.8M669.5 127.0V129.6M670.5 127.5V129.2M671.5 127.3V129.5M672.5 127.3V129.3M673.5 127.4V129.4M674.5 127.2V129.3M675.5 127.0V129.5M676.5 127.0V129.5M677.5 126.9V129.8M678.5 127.2V129.4M679.5 127.4V129.2M680.5 127.0V129.2M681.5 127.2V129.5M682.5 126.8V129.8M683.5 126.9V129.8M684.5 126.9V129.5M685.5 127.4V129.6M686.5 127.3V129.6M687.5 126.9V129.6M688.5 126.9V129.8M689.5 127.3V129.4M690.5 127.0V129.3M691.5 127.5V129.4M692.5 127.3V129.2M693.5 127.3V129.5M694.5 127.1V129.3M695.5 127.1V129.1M696.5 127.3V129.4M697.5 127.3V129.3M698.5 127.4V129.4M699.5 127.1V129.4M700.5 127.4V129.4M701.5 127.3V129.2M702.5 127.4V129.4M703.5 127.0V129.5M704.5 127.3V129.3M705.5 127.3V129.8M706.5 127.2V129.3M707.5 127.4V129.2M708.5 127.5V129.2M709.5 127.5V129.1M710.5 127.4V129.3M711.5 127.2V129.5M712.5 127.2V129.3M713.5 127.4V129.5M714.5 127.3V129.3M715.5 127.0V129.2M716.5 127.5V129.5M717.5 127.1V129.2M718.5 127.3V129.2M719.5 127.5V129.4M720.5 127.3V129.3M721.5 127.1V129.5M722.5 127.2V129.6M723.5 127.2V129.2M724.5 127.2V129.3M725.5 127.2V129.7M726.5 127.0V129.4M727.5 127.2V129.3M728.5 127.3V129.2M729.5 127.4V129.3M730.5 127.3V129.6M731.5 127.2V129.7M732.5 127.2V129.8M733.5 126.9V129.7M734.5 127.3V129.5M735.5 127.2V129.3M736.5 127.5V129.2M737.5 127.0V129.4M738.5 126.9V129.7M739.5 127.3V129.5M740.5 126.9V129.4M741.5 127.1V129.7M742.5 127.0V129.3M743.5 127.2V129.5M744.5 127.1V129.4M745.5 127.3V129.3M746.5 127.0V129.5M747.5 127.3V129.4M748.5 127.4V129.4M749.5 127.3V129.3M750.5 127.4V129.2M751.5 127.3V129.2M752.5 127.1V129.3M753.5 127.4V129.1M754.5 127.4V129.1M755.5 127.5V129.2M756.5 127.2V129.3M757.5 127.0V129.5M758.5 127.1V129.5M759.5 126.8V129.8M760.5 126.8V129.8M761.5 127.2V129.4M762.5 127.0V129.8M763.5 126.8V129.4M764.5 127.0V129.5M765.5 127.1V129.4M766.5 127.3V129.2M767.5 127.3V129.3M768.5 127.0V129.6M769.5 126.9V129.5M770.5 127.2V129.8M771.5 127.2V129.4M772.5 127.0V129.7M773.5 127.1V129.5M774.5 126.8V129.8M775.5 126.9V129.6M776.5 126.7V129.6M777.5 127.2V129.5M778.5 127.1V129.5M779.5 127.4V129.2M780.5 127.2V129.2M781.5 127.2V129.3M782.5 127.4V129.2M783.5 127.5V129.3M784.5 127.4V129.0M785.5 127.4V129.2M786.5 127.4V129.1M787.5 127.1V129.4M788.5 127.2V129.6M789.5 127.5V129.5" stroke="#006400" stroke-width="1" fill="none"/>
<path d="M558 124.3V133.3M634 119.3V133.3M636 122.3V133.3M658 103.3V152.3M659 108.3V151.3M663 122.3V134.3M684 122.3V132.3" stroke="#006400" stroke-width="0.9" opacity="0.75" fill="none"/>
<rect x="507" y="100.4" width="283" height="54" fill="none" stroke="#000" stroke-width="2"/>
<path d="M517.1 94.4V99.4M517.1 155.4V160.4M540.8 94.4V99.4M540.8 155.4V160.4M564.4 94.4V99.4M564.4 155.4V160.4M588 94.4V99.4M588 155.4V160.4M611.7 94.4V99.4M611.7 155.4V160.4M635.4 94.4V99.4M635.4 155.4V160.4M659 94.4V99.4M659 155.4V160.4M682.6 94.4V99.4M682.6 155.4V160.4M706.3 94.4V99.4M706.3 155.4V160.4M730 94.4V99.4M730 155.4V160.4M753.6 94.4V99.4M753.6 155.4V160.4M777.2 94.4V99.4M777.2 155.4V160.4" stroke="#000" stroke-width="1" fill="none"/>
<text class="sans" x="517.1" y="171.8" font-size="11" text-anchor="middle" fill="#111">30</text>
<text class="sans" x="540.8" y="171.8" font-size="11" text-anchor="middle" fill="#111">35</text>
<text class="sans" x="564.4" y="171.8" font-size="11" text-anchor="middle" fill="#111">40</text>
<text class="sans" x="588" y="171.8" font-size="11" text-anchor="middle" fill="#111">45</text>
<text class="sans" x="611.7" y="171.8" font-size="11" text-anchor="middle" fill="#111">50</text>
<text class="sans" x="635.4" y="171.8" font-size="11" text-anchor="middle" fill="#111">55</text>
<text class="sans" x="659" y="171.8" font-size="11" text-anchor="middle" fill="#111">00</text>
<text class="sans" x="682.6" y="171.8" font-size="11" text-anchor="middle" fill="#111">05</text>
<text class="sans" x="706.3" y="171.8" font-size="11" text-anchor="middle" fill="#111">10</text>
<text class="sans" x="730" y="171.8" font-size="11" text-anchor="middle" fill="#111">15</text>
<text class="sans" x="753.6" y="171.8" font-size="11" text-anchor="middle" fill="#111">20</text>
<text class="sans" x="777.2" y="171.8" font-size="11" text-anchor="middle" fill="#111">25</text>
<text class="sans" x="799.5" y="111.7" font-size="9.85" font-weight="bold" fill="#1414ff">Bomberos Puriscal</text>
<text class="sans" x="799.5" y="135.2" font-size="10.2" letter-spacing="-0.12" fill="#111">Acel. Max. 0.0</text>
<text class="sans" x="799.5" y="152.8" font-size="10.2" letter-spacing="-0.25" fill="#111">Int JMA: 0</text>
<path d="M514.5 201.8V213.0M525.5 201.8V217.9M532.5 198.2V216.6M550.5 203.6V215.5M563.5 194.7V212.3M564.5 202.9V219.0M575.5 191.0V217.4M577.5 199.7V214.8M593.5 202.8V212.1M597.5 201.9V212.6M606.5 202.1V210.7M607.5 200.6V219.1M620.5 200.1V213.2M626.5 199.3V215.9M629.5 202.3V221.2M630.5 196.8V220.9M643.5 191.8V218.5M647.5 196.6V212.5M649.5 197.9V214.8M655.5 203.0V221.1M656.5 197.5V219.1M671.5 203.0V212.5M672.5 202.3V213.7M676.5 201.3V216.8M683.5 204.0V213.1M691.5 203.1V215.5M703.5 203.2V214.2M706.5 202.7V214.4M708.5 200.5V212.0M718.5 202.2V213.6M722.5 204.6V211.0M725.5 202.5V210.6M726.5 202.0V211.5M737.5 200.8V212.2M739.5 204.7V210.9M747.5 204.5V212.5M759.5 205.1V210.4M776.5 203.4V209.8M778.5 201.6V213.3M782.5 205.2V211.5M783.5 204.1V213.6" stroke="#006400" stroke-width="1" opacity="0.4" fill="none"/>
<path d="M508.5 202.0V215.2M509.5 203.5V212.0M510.5 202.4V211.9M512.5 199.6V219.5M515.5 201.0V215.3M516.5 200.0V213.8M517.5 199.0V220.9M519.5 202.6V218.4M520.5 203.4V210.8M521.5 204.7V211.0M522.5 204.8V213.1M526.5 199.9V211.7M528.5 199.3V219.7M530.5 201.6V217.9M536.5 203.8V217.4M540.5 202.8V211.5M543.5 202.9V214.9M544.5 202.1V219.2M546.5 198.4V217.8M553.5 200.7V212.2M554.5 196.3V215.8M556.5 201.3V220.0M557.5 203.4V213.5M570.5 198.8V223.3M574.5 194.3V229.6M576.5 198.2V215.2M580.5 194.2V216.6M582.5 201.6V213.4M585.5 203.5V219.4M590.5 202.1V217.8M595.5 195.7V213.4M598.5 204.4V215.6M603.5 195.3V214.4M604.5 201.7V215.5M609.5 201.9V212.0M619.5 194.6V214.9M624.5 201.2V212.2M627.5 197.1V211.9M628.5 200.6V213.1M633.5 197.4V214.6M634.5 200.6V212.7M635.5 200.9V212.6M636.5 202.7V216.6M638.5 199.4V221.0M640.5 198.6V213.0M642.5 193.6V222.0M650.5 199.2V216.4M651.5 191.5V218.2M652.5 192.5V214.1M653.5 199.3V212.9M659.5 194.3V213.2M661.5 202.2V216.6M662.5 200.1V217.5M664.5 195.3V216.1M665.5 198.0V224.5M666.5 197.1V219.2M668.5 200.9V214.3M669.5 199.5V220.7M670.5 203.2V215.1M686.5 198.9V216.2M687.5 204.0V212.2M688.5 203.2V211.2M690.5 201.6V212.9M694.5 196.7V214.0M696.5 203.8V216.7M698.5 201.8V214.7M711.5 203.4V213.7M720.5 204.1V210.6M721.5 199.7V215.0M724.5 203.5V210.3M730.5 200.0V211.3M734.5 201.7V214.7M742.5 205.1V210.4M744.5 201.7V211.0M754.5 204.3V211.8M757.5 202.7V210.2M761.5 201.4V212.6M762.5 204.6V210.3M763.5 202.1V213.3M766.5 204.8V212.0M767.5 202.5V211.2M769.5 203.9V212.6M772.5 201.3V213.0M775.5 205.7V210.3M779.5 205.1V210.0M786.5 201.3V210.7M788.5 203.1V211.6M789.5 202.9V210.2" stroke="#006400" stroke-width="1" opacity="0.65" fill="none"/>
<path d="M511.5 200.9V215.8M513.5 199.9V212.8M518.5 201.0V212.8M523.5 202.8V214.8M524.5 202.2V213.2M527.5 201.0V212.7M529.5 199.7V213.3M531.5 198.7V220.2M533.5 201.3V215.8M534.5 203.1V212.6M535.5 199.6V214.2M537.5 203.1V217.0M538.5 198.8V211.4M539.5 195.4V211.2M541.5 198.2V211.9M542.5 200.6V213.6M545.5 198.6V221.8M547.5 196.7V212.9M548.5 200.5V216.7M549.5 201.0V214.0M551.5 199.5V212.2M552.5 203.1V213.9M555.5 200.1V213.8M558.5 199.5V220.1M559.5 200.6V212.3M560.5 204.4V212.2M561.5 196.7V212.6M562.5 202.0V219.4M565.5 196.0V217.1M566.5 200.9V221.7M567.5 193.2V221.4M568.5 191.7V213.6M569.5 200.3V215.1M571.5 202.9V220.6M572.5 197.1V221.2M573.5 189.0V216.1M578.5 203.9V213.0M579.5 197.1V213.0M581.5 196.8V218.5M583.5 196.6V212.5M584.5 203.7V213.8M586.5 202.3V221.4M587.5 198.1V212.0M588.5 202.8V212.8M589.5 197.8V216.8M591.5 198.7V220.4M592.5 202.8V215.8M594.5 202.6V216.6M596.5 200.5V213.3M599.5 203.2V211.9M600.5 202.5V211.1M601.5 196.8V216.3M602.5 201.0V213.3M605.5 202.9V214.1M608.5 202.4V219.7M610.5 196.7V212.7M611.5 195.5V221.6M612.5 201.3V212.8M613.5 197.2V217.7M614.5 202.8V214.9M615.5 195.2V220.2M616.5 199.9V214.0M617.5 201.5V215.9M618.5 203.9V218.6M621.5 203.7V215.4M622.5 196.4V218.6M623.5 202.8V217.9M625.5 201.5V213.5M631.5 198.2V214.2M632.5 204.1V211.3M637.5 195.7V216.5M639.5 203.0V218.1M641.5 189.0V217.8M644.5 196.1V221.8M645.5 202.0V212.4M646.5 199.1V211.8M648.5 194.5V215.8M654.5 192.3V216.7M657.5 197.2V218.6M658.5 201.7V219.3M660.5 198.3V220.8M663.5 196.2V225.7M667.5 199.0V220.0M673.5 203.1V215.5M674.5 201.2V212.6M675.5 196.6V215.7M677.5 201.2V213.8M678.5 203.7V215.5M679.5 203.2V213.2M680.5 203.4V213.9M681.5 204.1V220.6M682.5 203.8V211.2M684.5 200.9V218.3M685.5 196.3V215.2M689.5 203.4V216.6M692.5 195.0V222.3M693.5 203.3V217.4M695.5 199.8V212.1M697.5 200.9V217.0M699.5 204.6V215.9M700.5 204.5V214.5M701.5 204.7V216.8M702.5 198.6V214.0M704.5 199.7V215.7M705.5 199.2V214.9M707.5 202.0V218.3M709.5 198.1V215.5M710.5 201.3V211.8M712.5 202.2V213.3M713.5 204.3V213.9M714.5 203.6V216.0M715.5 203.5V211.7M716.5 202.2V211.3M717.5 202.0V216.3M719.5 205.2V210.4M723.5 204.0V210.9M727.5 200.8V211.7M728.5 200.5V214.0M729.5 202.0V210.4M731.5 200.9V210.7M732.5 205.1V212.7M733.5 204.4V211.4M735.5 202.6V214.0M736.5 203.4V213.1M738.5 203.0V212.6M740.5 199.3V211.4M741.5 199.8V214.0M743.5 204.2V210.1M745.5 204.3V212.0M746.5 199.7V217.2M748.5 201.9V213.2M749.5 199.0V216.4M750.5 203.6V217.0M751.5 201.2V212.5M752.5 201.3V211.2M753.5 201.0V216.0M755.5 205.0V210.3M756.5 202.3V211.1M758.5 201.2V209.7M760.5 202.9V209.8M764.5 202.7V209.7M765.5 204.8V209.9M768.5 205.5V215.4M770.5 204.1V211.9M771.5 204.4V210.3M773.5 203.6V210.6M774.5 205.0V210.2M777.5 201.8V210.0M780.5 205.0V209.7M781.5 203.6V215.1M784.5 205.6V210.0M785.5 204.3V210.8M787.5 203.6V211.8" stroke="#006400" stroke-width="1" opacity="0.9" fill="none"/>
<path d="M508.5 205.3V210.9M509.5 205.5V210.0M510.5 204.9V210.7M511.5 204.8V210.2M512.5 204.3V210.7M513.5 204.9V210.5M514.5 204.3V211.4M515.5 205.0V210.1M516.5 204.8V210.1M517.5 204.1V211.4M518.5 204.8V211.3M519.5 205.1V210.0M520.5 205.0V210.1M521.5 205.3V209.6M522.5 205.8V210.5M523.5 204.9V209.9M524.5 204.9V210.6M525.5 204.1V210.6M526.5 204.3V211.2M527.5 204.9V211.4M528.5 204.2V210.8M529.5 204.3V210.2M530.5 205.0V210.8M531.5 204.6V210.9M532.5 204.4V210.8M533.5 205.5V210.6M534.5 204.9V210.2M535.5 205.0V211.3M536.5 204.7V211.5M537.5 204.5V211.3M538.5 205.1V211.2M539.5 205.3V210.9M540.5 205.4V210.0M541.5 204.6V210.8M542.5 204.7V210.2M543.5 205.0V209.8M544.5 204.9V210.2M545.5 204.1V210.4M546.5 204.0V211.8M547.5 203.9V211.4M548.5 204.9V210.6M549.5 204.7V211.7M550.5 204.6V211.0M551.5 204.9V210.1M552.5 205.0V210.1M553.5 204.8V210.4M554.5 204.7V211.6M555.5 204.5V211.5M556.5 204.0V211.4M557.5 204.6V211.3M558.5 204.6V211.1M559.5 204.6V210.6M560.5 204.7V210.7M561.5 204.8V210.2M562.5 204.5V211.0M563.5 204.4V211.3M564.5 204.0V211.2M565.5 202.8V211.3M566.5 203.6V211.2M567.5 202.5V212.3M568.5 204.0V211.8M569.5 203.2V212.0M570.5 204.0V212.3M571.5 203.1V211.4M572.5 203.9V213.0M573.5 201.9V212.1M574.5 201.4V212.7M575.5 201.5V212.9M576.5 202.7V212.3M577.5 204.5V211.0M578.5 204.0V211.6M579.5 204.8V211.1M580.5 203.6V210.7M581.5 204.9V211.9M582.5 204.7V210.6M583.5 204.2V210.8M584.5 204.7V211.5M585.5 205.2V211.2M586.5 204.5V210.5M587.5 203.7V210.9M588.5 204.1V211.7M589.5 204.4V210.6M590.5 204.6V211.4M591.5 204.4V211.2M592.5 204.8V210.7M593.5 204.3V210.3M594.5 204.5V210.6M595.5 203.9V210.6M596.5 204.1V210.8M597.5 204.3V210.4M598.5 205.4V209.9M599.5 204.9V210.6M600.5 205.0V211.1M601.5 204.7V210.1M602.5 205.1V211.1M603.5 204.8V211.7M604.5 204.5V211.1M605.5 204.8V210.3M606.5 205.3V210.7M607.5 204.7V210.0M608.5 204.7V210.9M609.5 204.8V210.2M610.5 204.7V210.9M611.5 204.1V211.4M612.5 203.5V210.6M613.5 204.6V211.1M614.5 204.1V210.6M615.5 204.8V210.6M616.5 205.0V211.1M617.5 204.7V210.7M618.5 204.2V210.6M619.5 203.9V210.4M620.5 204.7V210.5M621.5 204.6V209.9M622.5 204.9V210.1M623.5 204.2V210.5M624.5 204.3V211.1M625.5 204.3V211.2M626.5 204.4V211.1M627.5 203.5V211.7M628.5 203.8V211.2M629.5 203.8V211.6M630.5 204.4V210.8M631.5 204.6V211.3M632.5 205.4V210.7M633.5 204.8V210.7M634.5 204.9V210.4M635.5 205.4V210.2M636.5 204.7V210.8M637.5 204.2V211.3M638.5 204.4V212.2M639.5 203.5V211.7M640.5 204.4V212.1M641.5 202.3V213.1M642.5 203.9V211.4M643.5 202.9V212.8M644.5 204.0V211.2M645.5 204.6V211.3M646.5 204.3V211.1M647.5 204.6V211.9M648.5 204.2V211.3M649.5 203.6V212.8M650.5 203.8V212.1M651.5 202.9V211.3M652.5 203.4V212.4M653.5 202.5V212.4M654.5 203.9V211.6M655.5 203.1V212.1M656.5 203.5V210.9M657.5 204.4V211.9M658.5 204.2V210.9M659.5 203.3V212.7M660.5 203.3V212.1M661.5 204.2V211.4M662.5 203.3V212.2M663.5 203.1V212.4M664.5 202.9V212.6M665.5 202.2V213.1M666.5 203.3V211.5M667.5 202.5V213.1M668.5 202.8V213.0M669.5 203.2V211.5M670.5 203.7V211.4M671.5 205.0V211.4M672.5 205.0V210.6M673.5 203.3V211.1M674.5 203.5V211.5M675.5 204.9V211.8M676.5 204.7V211.2M677.5 204.5V210.2M678.5 204.2V210.6M679.5 204.6V210.9M680.5 204.8V211.2M681.5 204.2V210.8M682.5 204.4V210.9M683.5 204.5V210.5M684.5 204.5V210.9M685.5 204.6V211.7M686.5 203.9V211.0M687.5 205.0V210.4M688.5 204.8V209.7M689.5 205.4V210.9M690.5 204.3V210.3M691.5 204.8V211.6M692.5 204.8V211.4M693.5 204.1V212.0M694.5 204.5V211.5M695.5 205.2V210.6M696.5 205.0V209.7M697.5 205.4V210.3M698.5 205.2V210.7M699.5 204.8V210.5M700.5 205.6V209.8M701.5 205.1V210.1M702.5 204.4V210.7M703.5 204.8V211.4M704.5 204.4V211.2M705.5 205.1V210.2M706.5 204.5V210.2M707.5 204.1V211.0M708.5 204.3V210.9M709.5 205.4V210.1M710.5 205.8V209.6M711.5 205.6V209.9M712.5 205.6V209.8M713.5 205.5V210.6M714.5 204.8V210.1M715.5 205.4V209.5M716.5 205.3V209.4M717.5 205.2V209.9M718.5 204.9V210.4M719.5 205.9V210.0M720.5 205.7V209.4M721.5 205.5V209.8M722.5 206.1V210.0M723.5 205.9V209.8M724.5 206.2V209.2M725.5 206.0V209.5M726.5 206.2V209.8M727.5 205.6V210.4M728.5 205.0V209.6M729.5 205.9V209.3M730.5 206.0V209.6M731.5 205.4V209.7M732.5 205.3V210.1M733.5 206.1V209.8M734.5 205.5V209.3M735.5 205.5V209.6M736.5 205.8V210.1M737.5 205.4V209.6M738.5 205.6V209.9M739.5 205.8V210.2M740.5 205.3V209.8M741.5 205.6V210.2M742.5 206.0V209.7M743.5 206.0V209.4M744.5 206.1V209.7M745.5 206.0V210.1M746.5 205.5V210.4M747.5 205.6V210.4M748.5 205.2V209.9M749.5 205.1V209.6M750.5 205.5V210.2M751.5 205.9V209.8M752.5 205.4V209.7M753.5 205.9V209.6M754.5 205.5V209.7M755.5 205.4V209.3M756.5 205.7V209.4M757.5 205.8V209.5M758.5 206.3V209.3M759.5 205.8V209.8M760.5 205.7V209.3M761.5 205.8V209.8M762.5 205.5V210.3M763.5 205.8V209.3M764.5 205.7V209.7M765.5 205.9V209.4M766.5 205.8V209.2M767.5 205.6V209.8M768.5 205.7V209.8M769.5 206.0V209.4M770.5 206.0V209.2M771.5 205.9V209.1M772.5 206.2V209.9M773.5 205.7V209.6M774.5 206.0V209.7M775.5 205.8V209.3M776.5 206.0V209.0M777.5 205.9V209.5M778.5 206.0V209.4M779.5 206.0V209.2M780.5 206.2V209.6M781.5 205.7V210.1M782.5 205.3V209.8M783.5 206.0V209.3M784.5 206.3V209.1M785.5 205.8V209.2M786.5 206.1V209.5M787.5 206.1V209.6M788.5 206.1V209.4M789.5 206.1V209.4" stroke="#006400" stroke-width="1" fill="none"/>
<path d="M563 193.7V225.7M574 185.7V231.7M575 192.7V225.7M597 197.7V219.7M641 185.7V219.7M643 187.7V222.7M657 185.7V225.7M662 189.7V227.7M664 195.7V221.7M673 197.7V223.7M710 197.7V221.7" stroke="#006400" stroke-width="0.9" opacity="0.75" fill="none"/>
<rect x="507" y="179.8" width="283" height="54" fill="none" stroke="#000" stroke-width="2"/>
<path d="M510.4 173.8V178.8M510.4 234.8V239.8M534 173.8V178.8M534 234.8V239.8M557.7 173.8V178.8M557.7 234.8V239.8M581.3 173.8V178.8M581.3 234.8V239.8M605 173.8V178.8M605 234.8V239.8M628.6 173.8V178.8M628.6 234.8V239.8M652.3 173.8V178.8M652.3 234.8V239.8M675.9 173.8V178.8M675.9 234.8V239.8M699.6 173.8V178.8M699.6 234.8V239.8M723.2 173.8V178.8M723.2 234.8V239.8M746.9 173.8V178.8M746.9 234.8V239.8M770.5 173.8V178.8M770.5 234.8V239.8" stroke="#000" stroke-width="1" fill="none"/>
<text class="sans" x="510.4" y="251.2" font-size="11" text-anchor="middle" fill="#111">20</text>
<text class="sans" x="534" y="251.2" font-size="11" text-anchor="middle" fill="#111">25</text>
<text class="sans" x="557.7" y="251.2" font-size="11" text-anchor="middle" fill="#111">30</text>
<text class="sans" x="581.3" y="251.2" font-size="11" text-anchor="middle" fill="#111">35</text>
<text class="sans" x="605" y="251.2" font-size="11" text-anchor="middle" fill="#111">40</text>
<text class="sans" x="628.6" y="251.2" font-size="11" text-anchor="middle" fill="#111">45</text>
<text class="sans" x="652.3" y="251.2" font-size="11" text-anchor="middle" fill="#111">50</text>
<text class="sans" x="675.9" y="251.2" font-size="11" text-anchor="middle" fill="#111">55</text>
<text class="sans" x="699.6" y="251.2" font-size="11" text-anchor="middle" fill="#111">00</text>
<text class="sans" x="723.2" y="251.2" font-size="11" text-anchor="middle" fill="#111">05</text>
<text class="sans" x="746.9" y="251.2" font-size="11" text-anchor="middle" fill="#111">10</text>
<text class="sans" x="770.5" y="251.2" font-size="11" text-anchor="middle" fill="#111">15</text>
<text class="sans" x="799.5" y="190.4" font-size="9.85" font-weight="bold" fill="#1414ff">Hosp. Grecia</text>
<text class="sans" x="799.5" y="214.1" font-size="10.2" letter-spacing="-0.12" fill="#111">Acel. Max. 0.0</text>
<text class="sans" x="799.5" y="231.8" font-size="10.2" letter-spacing="-0.25" fill="#111">Int JMA: 0</text>
<path d="M510.5 287.9V293.8M525.5 284.5V297.2M526.5 286.9V302.4M527.5 282.4V294.6M528.5 286.2V295.9M536.5 283.8V295.5M537.5 284.2V294.7M541.5 287.1V297.8M558.5 283.2V301.9M564.5 274.6V299.3M565.5 283.3V298.9M566.5 277.5V299.5M572.5 284.0V296.2M576.5 281.4V297.0M586.5 284.3V294.3M589.5 286.7V300.3M593.5 279.1V298.9M612.5 285.0V301.0M613.5 280.9V298.0M624.5 283.3V301.9M628.5 284.9V297.3M631.5 285.7V297.5M634.5 279.3V305.7M635.5 281.3V305.8M636.5 281.0V297.8M647.5 280.7V299.8M648.5 284.3V302.4M652.5 280.8V300.9M656.5 272.6V302.2M660.5 274.5V300.4M661.5 283.8V303.7M664.5 284.0V304.1M666.5 275.5V301.8M671.5 280.7V301.8M686.5 287.4V299.6M692.5 287.7V294.3M698.5 288.4V298.2M704.5 286.4V293.7M708.5 286.4V294.6M716.5 288.1V296.6M719.5 288.7V293.6M727.5 289.2V294.6M756.5 289.0V295.2M761.5 287.9V293.9M765.5 288.1V293.1M775.5 289.0V293.9M778.5 287.6V292.8M786.5 285.9V295.1" stroke="#006400" stroke-width="1" opacity="0.4" fill="none"/>
<path d="M508.5 287.6V295.5M513.5 289.4V294.5M516.5 289.2V295.0M517.5 289.1V293.5M522.5 285.5V298.3M523.5 287.1V293.8M529.5 287.1V296.3M532.5 281.0V294.6M534.5 286.5V301.2M539.5 280.4V298.7M540.5 282.1V294.7M543.5 286.0V297.7M549.5 285.2V295.7M550.5 286.0V295.0M551.5 288.0V297.7M554.5 287.4V303.2M559.5 279.7V308.0M560.5 281.6V298.8M563.5 276.6V299.3M567.5 276.3V301.1M570.5 286.6V299.6M574.5 288.2V295.5M578.5 283.4V295.1M581.5 285.3V300.9M584.5 285.5V301.8M592.5 284.4V298.8M594.5 286.3V296.7M597.5 283.6V305.8M598.5 278.0V296.8M605.5 286.0V302.0M611.5 285.1V296.3M617.5 288.0V294.7M619.5 283.7V296.2M623.5 286.7V297.5M625.5 283.2V298.6M627.5 285.6V299.9M629.5 282.7V302.0M633.5 285.0V308.4M638.5 282.4V306.2M641.5 281.1V306.8M644.5 277.5V300.8M646.5 270.6V297.8M654.5 283.4V302.3M658.5 278.3V301.0M659.5 277.2V303.3M663.5 280.0V298.0M665.5 276.3V300.3M668.5 277.8V308.5M673.5 284.7V298.2M676.5 285.3V304.7M680.5 282.3V295.0M682.5 285.1V297.4M683.5 282.7V299.3M684.5 279.9V296.2M685.5 287.2V300.1M690.5 287.1V297.6M694.5 288.2V302.2M695.5 287.0V294.2M696.5 288.4V296.7M697.5 287.1V295.9M705.5 286.9V295.4M706.5 287.4V298.5M709.5 285.0V295.1M711.5 288.3V293.9M714.5 287.3V297.5M720.5 286.5V294.5M722.5 287.4V294.1M723.5 286.2V294.4M729.5 285.4V293.2M730.5 288.7V293.4M731.5 287.2V295.4M732.5 287.8V293.8M733.5 286.5V295.0M737.5 288.7V294.1M739.5 284.8V295.1M741.5 287.9V296.9M742.5 287.2V293.2M746.5 288.0V295.2M747.5 286.3V296.7M750.5 287.5V295.6M755.5 286.4V298.1M759.5 287.9V294.6M766.5 285.9V292.7M767.5 288.2V293.1M768.5 287.5V293.0M769.5 289.5V293.1M771.5 287.1V294.9M772.5 288.7V293.3M773.5 286.4V295.1M779.5 288.6V293.8M780.5 289.6V293.4M782.5 286.9V293.5M787.5 289.4V296.2M789.5 288.0V294.4" stroke="#006400" stroke-width="1" opacity="0.65" fill="none"/>
<path d="M509.5 289.3V293.1M511.5 287.5V293.4M512.5 289.1V293.8M514.5 286.3V297.7M515.5 288.5V294.8M518.5 288.1V293.2M519.5 289.1V293.6M520.5 288.4V296.2M521.5 289.5V294.3M524.5 286.6V295.5M530.5 282.9V297.7M531.5 283.8V294.3M533.5 282.7V299.8M535.5 287.3V295.2M538.5 282.4V304.5M542.5 282.4V297.5M544.5 287.3V296.2M545.5 285.3V298.7M546.5 286.0V300.5M547.5 286.6V297.8M548.5 287.3V297.5M552.5 286.2V294.3M553.5 284.2V295.4M555.5 286.8V303.7M556.5 282.9V297.4M557.5 284.9V296.9M561.5 281.1V303.4M562.5 280.0V297.0M568.5 285.6V295.3M569.5 279.2V299.8M571.5 284.9V296.8M573.5 286.7V295.9M575.5 284.6V295.8M577.5 284.9V298.3M579.5 277.0V300.0M580.5 281.3V295.4M582.5 286.3V300.8M583.5 281.2V295.9M585.5 286.5V298.4M587.5 284.5V295.6M588.5 282.9V296.7M590.5 281.0V297.3M591.5 287.6V299.7M595.5 286.4V298.4M596.5 279.8V296.5M599.5 281.9V303.8M600.5 282.3V301.8M601.5 282.4V296.9M602.5 287.0V298.7M603.5 286.6V299.8M604.5 286.8V294.9M606.5 284.2V294.5M607.5 279.2V295.4M608.5 284.7V302.8M609.5 279.3V296.9M610.5 286.7V296.3M614.5 285.2V297.8M615.5 287.1V296.6M616.5 282.9V297.9M618.5 287.6V299.6M620.5 278.5V307.1M621.5 279.8V307.7M622.5 279.5V298.4M626.5 281.6V296.8M630.5 277.8V295.4M632.5 286.4V298.6M637.5 285.5V297.1M639.5 282.9V304.7M640.5 280.9V306.8M642.5 284.0V297.0M643.5 285.5V301.1M645.5 284.5V304.5M649.5 283.9V298.2M650.5 285.0V301.9M651.5 284.9V312.1M653.5 274.4V302.6M655.5 284.2V312.9M657.5 282.1V307.1M662.5 274.3V304.9M667.5 272.0V297.3M669.5 285.7V297.9M670.5 282.1V300.7M672.5 285.3V299.2M674.5 280.1V307.1M675.5 286.5V303.6M677.5 284.4V295.4M678.5 283.5V298.3M679.5 285.5V305.5M681.5 283.5V304.2M687.5 287.4V295.9M688.5 285.5V294.9M689.5 286.5V295.8M691.5 283.4V294.6M693.5 285.5V295.0M699.5 288.8V295.2M700.5 285.7V294.7M701.5 287.5V293.9M702.5 285.9V296.0M703.5 288.8V295.3M707.5 283.4V293.9M710.5 286.4V296.3M712.5 286.3V294.3M713.5 287.0V297.3M715.5 288.7V296.9M717.5 287.4V295.5M718.5 287.4V295.0M721.5 287.8V293.2M724.5 288.2V294.2M725.5 285.7V294.9M726.5 285.2V294.8M728.5 285.8V293.2M734.5 283.6V297.9M735.5 287.1V293.8M736.5 288.1V294.1M738.5 288.2V293.5M740.5 288.8V294.3M743.5 286.9V294.8M744.5 288.6V293.1M745.5 286.8V293.9M748.5 286.0V295.1M749.5 286.8V293.6M751.5 288.9V294.4M752.5 285.8V295.8M753.5 284.9V297.2M754.5 287.0V293.6M757.5 288.7V294.4M758.5 289.1V295.9M760.5 289.0V295.1M762.5 288.8V294.1M763.5 287.0V295.6M764.5 289.2V293.4M770.5 288.3V297.2M774.5 289.2V293.3M776.5 288.9V295.4M777.5 287.3V293.9M781.5 287.9V293.2M783.5 289.4V296.3M784.5 289.2V293.7M785.5 287.2V294.3M788.5 289.4V295.0" stroke="#006400" stroke-width="1" opacity="0.9" fill="none"/>
<path d="M508.5 289.7V292.4M509.5 289.5V292.6M510.5 289.7V292.8M511.5 289.7V292.4M512.5 289.5V292.4M513.5 290.0V292.5M514.5 289.7V293.0M515.5 289.8V292.7M516.5 289.6V292.6M517.5 289.9V292.6M518.5 289.5V292.7M519.5 290.0V292.4M520.5 289.5V292.7M521.5 289.5V292.8M522.5 289.6V292.6M523.5 289.1V293.4M524.5 289.2V293.5M525.5 287.9V293.7M526.5 289.0V293.8M527.5 289.0V293.5M528.5 288.9V293.7M529.5 288.6V293.8M530.5 288.1V294.0M531.5 288.1V294.1M532.5 288.0V293.9M533.5 287.7V294.2M534.5 288.0V293.7M535.5 288.2V293.6M536.5 288.6V293.3M537.5 288.1V294.0M538.5 287.7V294.9M539.5 288.2V294.0M540.5 288.1V293.6M541.5 288.2V293.8M542.5 288.3V294.4M543.5 288.0V294.8M544.5 287.6V294.3M545.5 287.7V295.5M546.5 287.4V294.9M547.5 287.8V294.2M548.5 288.2V293.9M549.5 287.8V294.4M550.5 288.4V294.8M551.5 288.2V294.3M552.5 289.0V294.0M553.5 288.0V294.1M554.5 287.7V294.6M555.5 288.0V294.3M556.5 286.8V294.7M557.5 285.7V295.8M558.5 287.0V296.3M559.5 287.0V296.5M560.5 286.8V295.7M561.5 287.0V296.2M562.5 286.7V295.0M563.5 285.8V296.8M564.5 285.5V296.3M565.5 285.8V296.4M566.5 286.2V295.3M567.5 287.3V294.8M568.5 287.0V294.5M569.5 288.3V294.5M570.5 287.5V294.8M571.5 288.2V293.9M572.5 288.7V294.6M573.5 289.1V293.3M574.5 289.3V293.7M575.5 288.0V293.5M576.5 288.3V293.9M577.5 287.7V293.9M578.5 287.4V293.9M579.5 288.4V294.9M580.5 288.5V294.3M581.5 288.5V294.0M582.5 287.8V294.5M583.5 287.4V294.7M584.5 288.0V294.6M585.5 288.4V293.8M586.5 288.0V293.7M587.5 288.2V294.3M588.5 288.0V293.5M589.5 288.9V294.3M590.5 288.2V294.3M591.5 288.0V294.4M592.5 287.7V294.7M593.5 288.5V293.9M594.5 288.1V294.9M595.5 287.2V295.2M596.5 288.3V294.3M597.5 287.2V295.7M598.5 287.8V295.2M599.5 286.7V295.5M600.5 287.5V294.8M601.5 287.3V294.7M602.5 288.3V295.3M603.5 287.4V294.9M604.5 287.9V294.5M605.5 288.2V294.5M606.5 288.6V293.5M607.5 287.8V294.0M608.5 288.1V293.7M609.5 288.0V294.3M610.5 288.4V294.1M611.5 287.7V294.0M612.5 287.9V294.1M613.5 288.7V294.2M614.5 288.9V293.5M615.5 288.3V293.8M616.5 288.3V293.8M617.5 288.2V293.9M618.5 288.2V293.6M619.5 287.4V294.6M620.5 286.6V295.3M621.5 286.8V294.9M622.5 287.7V295.7M623.5 287.8V295.1M624.5 287.6V294.7M625.5 288.4V293.5M626.5 288.3V294.0M627.5 288.4V295.2M628.5 288.1V294.3M629.5 287.9V295.6M630.5 288.2V295.3M631.5 287.4V295.4M632.5 287.2V296.0M633.5 287.3V296.7M634.5 286.6V296.0M635.5 286.2V296.8M636.5 286.7V295.8M637.5 287.3V296.0M638.5 286.2V295.8M639.5 285.5V295.9M640.5 284.2V297.9M641.5 286.7V297.0M642.5 287.5V295.3M643.5 286.3V294.9M644.5 287.3V295.1M645.5 287.0V295.3M646.5 286.4V296.7M647.5 284.3V298.1M648.5 285.9V297.0M649.5 286.9V295.3M650.5 286.4V296.3M651.5 286.2V297.1M652.5 285.9V296.7M653.5 286.2V296.4M654.5 284.7V296.1M655.5 284.8V297.6M656.5 285.1V297.3M657.5 285.4V296.3M658.5 285.1V296.7M659.5 286.5V296.7M660.5 285.8V296.7M661.5 286.3V296.2M662.5 286.7V295.1M663.5 286.1V296.0M664.5 287.0V296.6M665.5 286.0V295.7M666.5 286.3V297.0M667.5 286.6V296.4M668.5 285.9V296.0M669.5 286.5V295.4M670.5 285.8V296.8M671.5 286.3V295.8M672.5 285.9V296.3M673.5 286.3V294.8M674.5 288.1V295.5M675.5 287.9V295.4M676.5 287.1V294.1M677.5 287.3V295.4M678.5 287.7V294.9M679.5 288.1V294.4M680.5 287.9V294.4M681.5 288.1V294.1M682.5 287.7V294.2M683.5 287.6V294.7M684.5 288.2V294.2M685.5 287.6V294.1M686.5 288.3V294.1M687.5 288.9V293.6M688.5 289.2V293.2M689.5 288.7V294.5M690.5 288.3V294.3M691.5 288.8V294.2M692.5 288.9V294.2M693.5 288.3V293.8M694.5 288.6V294.1M695.5 288.5V293.2M696.5 289.0V293.1M697.5 288.7V293.4M698.5 289.3V293.4M699.5 288.9V293.2M700.5 288.9V293.4M701.5 288.8V293.4M702.5 288.5V293.4M703.5 289.4V292.9M704.5 289.0V292.8M705.5 289.2V292.9M706.5 289.1V293.1M707.5 289.2V293.5M708.5 289.3V293.4M709.5 289.5V293.4M710.5 289.2V293.0M711.5 289.4V292.7M712.5 289.1V293.0M713.5 288.9V293.2M714.5 289.1V293.7M715.5 289.1V293.6M716.5 289.5V293.2M717.5 289.5V292.7M718.5 289.4V292.8M719.5 289.8V292.5M720.5 289.9V292.7M721.5 289.5V293.0M722.5 289.1V292.8M723.5 289.0V293.3M724.5 289.3V293.2M725.5 289.0V293.4M726.5 289.3V293.3M727.5 289.7V292.8M728.5 289.9V292.9M729.5 289.3V293.0M730.5 289.7V293.0M731.5 289.6V292.8M732.5 289.6V292.7M733.5 289.7V293.0M734.5 289.4V292.9M735.5 289.5V292.9M736.5 289.4V292.9M737.5 289.1V292.8M738.5 289.5V293.3M739.5 289.5V293.2M740.5 289.5V292.6M741.5 289.5V292.6M742.5 289.8V292.5M743.5 290.1V292.7M744.5 289.7V292.6M745.5 289.6V292.7M746.5 289.6V293.4M747.5 289.3V292.8M748.5 289.5V293.5M749.5 289.0V293.5M750.5 289.2V293.0M751.5 289.5V293.2M752.5 289.1V292.8M753.5 289.2V292.8M754.5 289.4V293.2M755.5 289.4V293.0M756.5 289.7V293.0M757.5 289.2V292.7M758.5 289.3V293.1M759.5 289.0V293.1M760.5 289.3V293.3M761.5 289.5V293.5M762.5 289.0V292.9M763.5 289.8V292.6M764.5 289.8V292.5M765.5 290.0V292.6M766.5 290.0V292.5M767.5 290.1V292.7M768.5 289.9V292.6M769.5 289.7V292.3M770.5 289.5V292.5M771.5 289.8V292.9M772.5 289.4V292.6M773.5 289.5V292.5M774.5 289.7V293.1M775.5 289.6V292.4M776.5 290.0V292.6M777.5 289.9V292.7M778.5 290.0V292.6M779.5 290.1V292.4M780.5 289.7V292.3M781.5 289.6V292.5M782.5 290.1V292.4M783.5 290.0V292.9M784.5 289.9V292.6M785.5 289.8V292.8M786.5 289.6V292.5M787.5 289.7V292.7M788.5 289.5V292.8M789.5 289.5V292.6" stroke="#006400" stroke-width="1" fill="none"/>
<path d="M559 281.2V301.2M560 279.2V303.2M561 277.2V305.2M563 279.2V304.2M564 281.2V301.2M562 275.2V307.2M599 272.2V301.2M641 263.2V309.2M646 271.2V313.2M655 275.2V311.2M668 273.2V301.2" stroke="#006400" stroke-width="0.9" opacity="0.75" fill="none"/>
<rect x="507" y="259.2" width="283" height="54" fill="none" stroke="#000" stroke-width="2"/>
<path d="M523.7 253.2V258.2M523.7 314.2V319.2M547.4 253.2V258.2M547.4 314.2V319.2M571 253.2V258.2M571 314.2V319.2M594.7 253.2V258.2M594.7 314.2V319.2M618.3 253.2V258.2M618.3 314.2V319.2M642 253.2V258.2M642 314.2V319.2M665.6 253.2V258.2M665.6 314.2V319.2M689.2 253.2V258.2M689.2 314.2V319.2M712.9 253.2V258.2M712.9 314.2V319.2M736.6 253.2V258.2M736.6 314.2V319.2M760.2 253.2V258.2M760.2 314.2V319.2M783.9 253.2V258.2M783.9 314.2V319.2" stroke="#000" stroke-width="1" fill="none"/>
<text class="sans" x="523.7" y="330.6" font-size="11" text-anchor="middle" fill="#111">30</text>
<text class="sans" x="547.4" y="330.6" font-size="11" text-anchor="middle" fill="#111">35</text>
<text class="sans" x="571" y="330.6" font-size="11" text-anchor="middle" fill="#111">40</text>
<text class="sans" x="594.7" y="330.6" font-size="11" text-anchor="middle" fill="#111">45</text>
<text class="sans" x="618.3" y="330.6" font-size="11" text-anchor="middle" fill="#111">50</text>
<text class="sans" x="642" y="330.6" font-size="11" text-anchor="middle" fill="#111">55</text>
<text class="sans" x="665.6" y="330.6" font-size="11" text-anchor="middle" fill="#111">00</text>
<text class="sans" x="689.2" y="330.6" font-size="11" text-anchor="middle" fill="#111">05</text>
<text class="sans" x="712.9" y="330.6" font-size="11" text-anchor="middle" fill="#111">10</text>
<text class="sans" x="736.6" y="330.6" font-size="11" text-anchor="middle" fill="#111">15</text>
<text class="sans" x="760.2" y="330.6" font-size="11" text-anchor="middle" fill="#111">20</text>
<text class="sans" x="783.9" y="330.6" font-size="11" text-anchor="middle" fill="#111">25</text>
<text class="sans" x="799.5" y="267.2" font-size="9.85" font-weight="bold" fill="#1414ff">San Miguel</text>
<text class="sans" x="799.5" y="290" font-size="10.2" letter-spacing="-0.12" fill="#111">Acel. Max. 0.0</text>
<text class="sans" x="799.5" y="307.6" font-size="10.2" letter-spacing="-0.25" fill="#111">Int JMA: 0</text>
<path d="M511.5 371.8V375.1M522.5 372.1V374.9M532.5 371.3V375.0M543.5 371.7V374.9M547.5 371.4V376.1M552.5 372.8V376.2M569.5 369.2V377.9M590.5 370.3V375.4M604.5 371.5V376.4M608.5 371.9V375.7M616.5 371.5V377.5M618.5 371.7V375.5M619.5 370.3V377.4M655.5 371.4V378.2M661.5 370.5V377.3M663.5 371.6V376.0M666.5 366.4V379.9M668.5 369.7V375.3M669.5 372.3V378.1M670.5 372.1V379.0M671.5 371.7V376.0M679.5 371.3V379.6M683.5 370.7V377.8M684.5 371.0V380.9M696.5 371.4V381.2M703.5 366.6V381.1M705.5 368.6V380.5M706.5 365.7V377.4M715.5 371.1V376.3M718.5 367.4V379.0M736.5 370.3V377.0M742.5 371.9V377.4M744.5 371.8V376.3M748.5 372.1V376.6M766.5 371.2V375.4M767.5 370.8V374.9M768.5 370.7V377.2M775.5 371.6V376.1M784.5 370.2V374.9M785.5 371.6V375.6M786.5 371.6V375.7" stroke="#ffa500" stroke-width="1" opacity="0.4" fill="none"/>
<path d="M510.5 372.2V375.2M512.5 372.5V376.1M513.5 372.7V375.3M514.5 372.7V376.1M518.5 372.8V376.0M524.5 372.8V375.1M526.5 371.9V375.8M528.5 372.5V377.1M530.5 372.7V375.2M533.5 371.7V375.5M535.5 370.7V376.2M538.5 371.2V375.0M545.5 371.5V376.3M546.5 372.4V375.8M551.5 372.5V375.2M554.5 372.0V375.1M555.5 370.4V374.9M557.5 372.3V375.6M559.5 371.6V375.5M563.5 369.3V375.6M564.5 371.9V376.8M566.5 372.7V377.1M567.5 371.5V377.1M570.5 372.2V375.3M574.5 369.6V375.6M577.5 370.5V376.2M586.5 372.6V376.6M589.5 370.3V377.7M595.5 371.7V375.9M596.5 371.7V376.9M597.5 370.8V378.2M601.5 370.0V376.1M602.5 371.0V376.2M610.5 369.9V376.9M611.5 370.2V375.7M612.5 371.2V377.9M614.5 371.5V375.1M615.5 370.7V375.9M617.5 372.1V375.5M620.5 369.7V379.1M623.5 371.2V377.5M628.5 371.3V377.5M631.5 369.4V376.7M632.5 371.5V376.3M640.5 368.0V376.0M642.5 367.9V376.9M648.5 361.9V394.7M649.5 355.1V388.9M656.5 371.2V378.2M657.5 370.8V380.3M658.5 368.0V378.9M660.5 371.9V378.3M664.5 366.2V376.9M672.5 368.6V378.6M674.5 370.8V375.8M675.5 369.2V377.4M678.5 370.2V377.2M680.5 369.8V376.6M686.5 370.2V376.3M687.5 369.8V377.2M688.5 370.3V380.8M690.5 369.9V381.6M693.5 369.7V378.5M694.5 371.2V381.6M695.5 369.3V378.0M697.5 370.9V376.2M698.5 371.2V381.2M699.5 371.0V378.3M700.5 370.6V376.2M702.5 367.8V376.6M704.5 367.1V377.6M707.5 370.1V383.8M709.5 370.4V382.4M712.5 366.5V376.9M716.5 368.2V376.0M721.5 372.0V377.5M724.5 370.8V375.4M726.5 370.4V379.5M734.5 369.6V379.0M735.5 370.9V378.9M738.5 370.3V375.4M741.5 370.7V377.5M745.5 371.1V376.5M751.5 371.4V375.6M752.5 371.0V375.9M753.5 372.4V376.4M761.5 370.3V378.4M763.5 372.1V376.7M765.5 372.6V375.9M776.5 371.9V375.7M777.5 371.4V375.6M778.5 372.3V374.6M782.5 372.2V376.4M789.5 371.8V376.9" stroke="#ffa500" stroke-width="1" opacity="0.65" fill="none"/>
<path d="M508.5 371.9V375.8M509.5 372.2V375.2M515.5 371.9V377.1M516.5 372.3V374.8M517.5 372.5V374.6M519.5 371.5V374.9M520.5 372.2V375.8M521.5 371.2V375.2M523.5 372.9V375.5M525.5 371.2V374.8M527.5 372.7V375.4M529.5 372.3V375.9M531.5 372.8V375.3M534.5 372.5V376.9M536.5 371.0V375.7M537.5 370.7V375.8M539.5 372.2V374.9M540.5 372.5V375.1M541.5 370.5V375.0M542.5 371.6V375.9M544.5 370.5V376.4M548.5 372.0V375.5M549.5 371.1V374.8M550.5 372.3V375.7M553.5 372.5V374.7M556.5 369.9V376.0M558.5 371.8V374.7M560.5 372.1V375.0M561.5 372.4V376.1M562.5 371.9V376.6M565.5 372.4V375.5M568.5 371.9V375.5M571.5 370.9V375.2M572.5 371.2V377.9M573.5 370.3V375.2M575.5 371.6V376.6M576.5 372.5V375.2M578.5 371.1V375.1M579.5 370.6V375.4M580.5 370.0V376.0M581.5 372.6V375.4M582.5 372.6V375.5M583.5 371.9V377.2M584.5 371.8V375.9M585.5 372.1V376.9M587.5 372.1V375.6M588.5 372.5V375.1M591.5 370.9V377.3M592.5 371.8V376.4M593.5 371.4V375.6M594.5 368.4V378.2M598.5 372.5V376.8M599.5 372.5V376.3M600.5 372.1V377.1M603.5 371.0V377.4M605.5 370.8V376.4M606.5 371.3V377.2M607.5 371.5V377.9M609.5 372.3V377.4M613.5 371.3V375.8M621.5 370.6V376.9M622.5 369.4V376.1M624.5 371.5V376.1M625.5 371.2V379.9M626.5 371.2V377.1M627.5 372.1V376.4M629.5 367.5V377.1M630.5 370.4V375.6M633.5 370.5V375.1M634.5 372.3V376.7M635.5 371.6V376.0M636.5 371.7V375.5M637.5 371.5V377.1M638.5 371.6V376.7M639.5 371.2V377.3M641.5 367.9V376.5M643.5 368.6V379.9M644.5 358.5V381.8M645.5 355.5V384.8M646.5 355.7V386.8M647.5 362.0V387.3M650.5 366.5V386.5M651.5 363.5V380.5M652.5 368.4V379.7M653.5 369.0V380.5M654.5 369.3V380.3M659.5 369.8V376.8M662.5 371.0V378.1M665.5 370.1V376.1M667.5 371.9V378.2M673.5 368.7V378.9M676.5 371.4V378.3M677.5 368.7V379.6M681.5 369.2V377.2M682.5 368.1V378.3M685.5 367.5V376.8M689.5 368.1V378.2M691.5 367.8V381.2M692.5 371.1V377.6M701.5 368.3V378.7M708.5 367.2V379.5M710.5 369.1V377.2M711.5 364.3V381.9M713.5 368.6V378.9M714.5 371.4V376.1M717.5 371.0V380.2M719.5 371.5V376.9M720.5 369.7V378.3M722.5 369.0V375.5M723.5 369.1V375.3M725.5 371.8V379.4M727.5 371.0V375.8M728.5 371.2V375.5M729.5 372.2V378.6M730.5 371.8V375.2M731.5 372.1V378.1M732.5 371.4V376.2M733.5 369.3V376.6M737.5 370.8V376.9M739.5 372.2V376.1M740.5 370.3V375.2M743.5 371.3V375.3M746.5 371.0V375.5M747.5 371.7V375.3M749.5 371.4V375.1M750.5 371.8V377.4M754.5 372.4V378.7M755.5 372.3V377.2M756.5 372.5V376.7M757.5 371.9V375.4M758.5 371.9V377.1M759.5 372.5V377.1M760.5 372.1V376.2M762.5 371.8V375.2M764.5 372.2V375.9M769.5 370.0V377.1M770.5 370.1V375.3M771.5 372.1V376.4M772.5 372.0V377.9M773.5 371.6V374.9M774.5 371.8V375.5M779.5 370.4V376.4M780.5 372.8V375.2M781.5 371.1V375.4M783.5 372.1V376.1M787.5 372.7V375.0M788.5 371.3V375.4" stroke="#ffa500" stroke-width="1" opacity="0.9" fill="none"/>
<path d="M508.5 373.0V374.5M509.5 372.9V374.7M510.5 372.9V374.6M511.5 373.0V374.5M512.5 373.1V374.4M513.5 373.2V374.6M514.5 373.2V374.4M515.5 373.1V374.5M516.5 372.9V374.4M517.5 373.2V374.5M518.5 373.2V374.4M519.5 373.1V374.6M520.5 373.0V374.6M521.5 373.1V374.4M522.5 373.2V374.6M523.5 372.9V374.5M524.5 373.0V374.6M525.5 373.2V374.5M526.5 373.1V374.7M527.5 372.9V374.7M528.5 372.8V374.8M529.5 373.0V374.8M530.5 372.9V374.7M531.5 373.1V374.4M532.5 373.0V374.6M533.5 373.1V374.7M534.5 372.7V374.7M535.5 372.8V374.5M536.5 373.0V374.6M537.5 373.0V374.7M538.5 372.8V374.5M539.5 372.8V374.6M540.5 372.9V374.5M541.5 373.0V374.7M542.5 373.0V374.7M543.5 372.9V374.5M544.5 373.0V374.8M545.5 372.8V374.6M546.5 372.8V374.7M547.5 373.0V374.7M548.5 372.8V374.8M549.5 372.9V374.8M550.5 372.9V374.6M551.5 373.1V374.6M552.5 373.0V374.7M553.5 373.1V374.6M554.5 373.0V374.5M555.5 372.9V374.7M556.5 372.8V374.6M557.5 372.9V374.6M558.5 373.0V374.5M559.5 372.8V374.6M560.5 372.6V374.6M561.5 372.6V374.9M562.5 372.9V374.8M563.5 372.7V375.1M564.5 372.6V374.7M565.5 372.7V374.9M566.5 372.9V374.9M567.5 372.9V374.9M568.5 372.8V374.8M569.5 372.7V375.1M570.5 372.8V374.9M571.5 372.8V374.7M572.5 372.7V375.0M573.5 372.7V374.9M574.5 372.9V374.8M575.5 372.6V375.1M576.5 372.6V375.1M577.5 372.6V375.0M578.5 372.9V374.9M579.5 372.8V375.1M580.5 372.8V375.0M581.5 372.7V374.8M582.5 372.8V374.9M583.5 372.8V374.7M584.5 372.6V374.9M585.5 373.0V374.7M586.5 373.0V374.7M587.5 372.9V374.9M588.5 372.6V375.0M589.5 372.5V375.1M590.5 372.5V375.3M591.5 372.3V375.2M592.5 372.2V375.0M593.5 372.2V375.2M594.5 372.5V375.0M595.5 372.5V375.1M596.5 372.5V375.2M597.5 372.7V374.9M598.5 372.7V375.0M599.5 372.7V374.9M600.5 372.8V375.0M601.5 372.3V375.1M602.5 372.3V375.1M603.5 372.6V375.0M604.5 372.9V375.0M605.5 372.5V375.0M606.5 372.7V375.2M607.5 372.6V375.0M608.5 372.8V375.1M609.5 372.5V374.8M610.5 372.5V375.0M611.5 372.3V375.0M612.5 372.5V375.4M613.5 372.5V375.0M614.5 372.6V375.1M615.5 372.4V374.8M616.5 372.6V374.9M617.5 372.4V375.1M618.5 372.6V375.1M619.5 372.4V375.0M620.5 372.1V375.5M621.5 372.4V375.5M622.5 372.5V375.5M623.5 372.2V375.2M624.5 372.3V375.2M625.5 372.3V375.2M626.5 372.5V375.4M627.5 372.7V375.0M628.5 372.3V375.0M629.5 372.4V375.2M630.5 372.1V375.0M631.5 372.5V374.9M632.5 372.6V374.8M633.5 372.6V374.7M634.5 372.9V374.8M635.5 372.6V375.0M636.5 372.5V375.0M637.5 372.5V375.3M638.5 372.6V375.1M639.5 372.5V375.0M640.5 372.0V375.7M641.5 371.9V376.0M642.5 370.9V376.2M643.5 370.4V376.8M644.5 368.2V379.4M645.5 366.4V380.0M646.5 365.2V380.1M647.5 367.9V381.0M648.5 367.4V382.0M649.5 367.8V381.8M650.5 367.3V378.9M651.5 369.7V377.4M652.5 370.6V376.5M653.5 371.8V376.1M654.5 371.8V375.8M655.5 372.4V375.2M656.5 372.2V375.7M657.5 371.9V375.5M658.5 372.0V375.3M659.5 372.2V375.3M660.5 372.2V375.4M661.5 372.0V375.1M662.5 371.9V375.8M663.5 372.2V375.8M664.5 371.7V376.0M665.5 371.7V375.6M666.5 371.7V375.3M667.5 372.3V375.4M668.5 372.7V375.0M669.5 372.2V374.9M670.5 372.4V375.2M671.5 372.4V375.8M672.5 372.2V375.9M673.5 372.5V375.8M674.5 372.0V375.2M675.5 372.4V375.2M676.5 372.5V375.3M677.5 372.4V375.3M678.5 372.1V375.3M679.5 372.5V375.6M680.5 372.1V375.5M681.5 371.9V375.9M682.5 371.7V375.9M683.5 371.4V376.0M684.5 372.0V375.7M685.5 372.2V375.6M686.5 372.0V375.9M687.5 371.8V375.8M688.5 371.6V376.0M689.5 371.5V375.8M690.5 371.6V376.1M691.5 371.7V376.1M692.5 371.3V376.0M693.5 371.6V376.3M694.5 371.8V375.7M695.5 371.5V376.2M696.5 371.6V376.1M697.5 372.0V375.4M698.5 372.2V375.4M699.5 372.1V375.5M700.5 372.1V376.1M701.5 371.5V376.3M702.5 371.6V375.8M703.5 371.3V375.8M704.5 371.7V376.7M705.5 370.6V376.5M706.5 371.3V377.4M707.5 371.2V376.5M708.5 371.1V376.0M709.5 371.2V376.1M710.5 371.8V375.6M711.5 371.5V375.7M712.5 371.9V376.3M713.5 371.7V376.2M714.5 371.9V375.4M715.5 371.8V375.3M716.5 371.9V375.5M717.5 372.3V375.9M718.5 371.9V375.5M719.5 372.4V375.2M720.5 372.5V375.4M721.5 372.1V375.2M722.5 372.5V375.0M723.5 372.6V375.1M724.5 372.3V375.2M725.5 372.4V375.4M726.5 372.2V375.4M727.5 372.3V375.4M728.5 372.6V375.3M729.5 372.6V374.8M730.5 372.8V374.7M731.5 372.8V375.0M732.5 372.3V375.2M733.5 372.7V375.1M734.5 372.7V375.1M735.5 372.8V374.8M736.5 372.6V374.9M737.5 372.9V374.7M738.5 372.8V374.8M739.5 373.0V374.8M740.5 372.4V374.8M741.5 372.3V375.2M742.5 372.3V375.0M743.5 372.7V375.2M744.5 372.9V374.7M745.5 372.6V374.8M746.5 372.9V374.9M747.5 373.0V374.7M748.5 372.8V374.8M749.5 372.8V374.8M750.5 372.8V374.6M751.5 372.9V374.8M752.5 372.9V374.7M753.5 372.5V374.9M754.5 372.7V375.1M755.5 372.5V374.8M756.5 372.9V374.7M757.5 373.0V374.7M758.5 372.9V374.5M759.5 372.7V374.7M760.5 372.6V374.9M761.5 372.8V375.1M762.5 372.7V374.7M763.5 372.9V374.7M764.5 373.0V374.6M765.5 372.9V375.0M766.5 372.9V374.7M767.5 372.8V374.5M768.5 372.9V374.7M769.5 372.7V374.9M770.5 372.5V374.8M771.5 372.8V375.1M772.5 372.9V375.0M773.5 373.0V374.4M774.5 373.0V374.7M775.5 373.1V374.5M776.5 373.1V374.7M777.5 373.0V374.6M778.5 372.9V374.6M779.5 372.9V374.8M780.5 373.1V374.8M781.5 373.0V374.8M782.5 373.0V374.6M783.5 373.0V374.7M784.5 372.8V374.7M785.5 372.9V374.4M786.5 372.8V374.7M787.5 372.8V374.7M788.5 372.8V374.8M789.5 373.0V374.9" stroke="#ffa500" stroke-width="1" fill="none"/>
<path d="M561 367.8V376.8M583 366.8V377.8M562 368.8V376.8M604 363.8V379.8M622 365.8V380.8M625 366.8V378.8M641 364.8V384.8M643 361.8V381.8M646 348.8V388.8M647 343.8V390.8M648 345.8V391.8M649 351.8V385.8M650 358.8V383.8M651 361.8V379.8M693 361.8V381.8M697 364.8V380.8M707 360.8V385.8M708 363.8V380.8M778 367.8V376.8" stroke="#ffa500" stroke-width="0.9" opacity="0.75" fill="none"/>
<rect x="507" y="338.6" width="283" height="54" fill="none" stroke="#000" stroke-width="2"/>
<path d="M521.4 332.6V337.6M521.4 393.6V398.6M545 332.6V337.6M545 393.6V398.6M568.7 332.6V337.6M568.7 393.6V398.6M592.3 332.6V337.6M592.3 393.6V398.6M616 332.6V337.6M616 393.6V398.6M639.6 332.6V337.6M639.6 393.6V398.6M663.3 332.6V337.6M663.3 393.6V398.6M686.9 332.6V337.6M686.9 393.6V398.6M710.6 332.6V337.6M710.6 393.6V398.6M734.2 332.6V337.6M734.2 393.6V398.6M757.9 332.6V337.6M757.9 393.6V398.6M781.5 332.6V337.6M781.5 393.6V398.6" stroke="#000" stroke-width="1" fill="none"/>
<text class="sans" x="521.4" y="410" font-size="11" text-anchor="middle" fill="#111">30</text>
<text class="sans" x="545" y="410" font-size="11" text-anchor="middle" fill="#111">35</text>
<text class="sans" x="568.7" y="410" font-size="11" text-anchor="middle" fill="#111">40</text>
<text class="sans" x="592.3" y="410" font-size="11" text-anchor="middle" fill="#111">45</text>
<text class="sans" x="616" y="410" font-size="11" text-anchor="middle" fill="#111">50</text>
<text class="sans" x="639.6" y="410" font-size="11" text-anchor="middle" fill="#111">55</text>
<text class="sans" x="663.3" y="410" font-size="11" text-anchor="middle" fill="#111">00</text>
<text class="sans" x="686.9" y="410" font-size="11" text-anchor="middle" fill="#111">05</text>
<text class="sans" x="710.6" y="410" font-size="11" text-anchor="middle" fill="#111">10</text>
<text class="sans" x="734.2" y="410" font-size="11" text-anchor="middle" fill="#111">15</text>
<text class="sans" x="757.9" y="410" font-size="11" text-anchor="middle" fill="#111">20</text>
<text class="sans" x="781.5" y="410" font-size="11" text-anchor="middle" fill="#111">25</text>
<text class="sans" x="799.5" y="346.2" font-size="9.85" font-weight="bold" fill="#1414ff">La Sabana</text>
<text class="sans" x="799.5" y="368.4" font-size="10.2" letter-spacing="-0.12" fill="#111">Acel. Max. 0.0</text>
<text class="sans" x="799.5" y="385.7" font-size="10.2" letter-spacing="-0.25" fill="#111">Int JMA: 0</text>
<text class="sans" x="620.2" y="426" font-size="12" fill="#111">Tiempo (s)</text>
<text class="sans" x="3.5" y="447" font-size="9" letter-spacing="0.12" fill="#111">LISUCR 20250829192429</text>
</svg></div></body></html>
